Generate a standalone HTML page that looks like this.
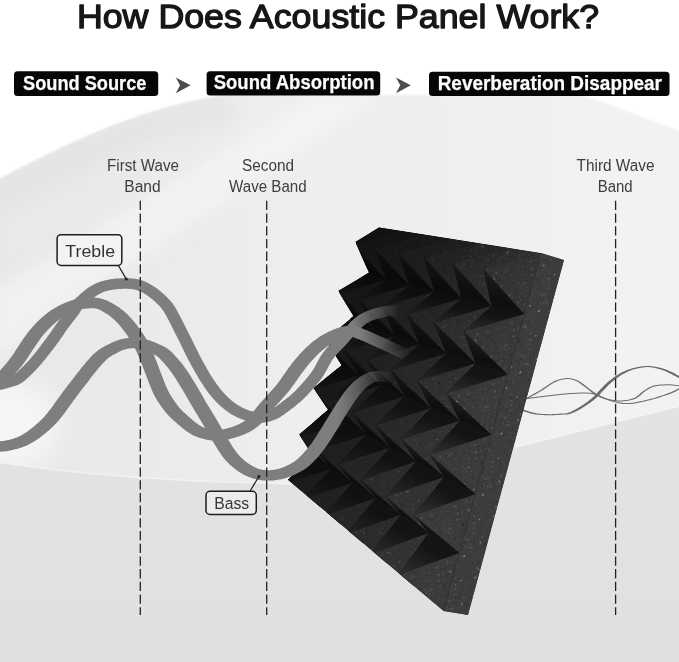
<!DOCTYPE html><html><head><meta charset="utf-8"><title>How Does Acoustic Panel Work?</title><style>html,body{margin:0;padding:0;background:#fff}body{width:679px;height:662px;overflow:hidden;font-family:"Liberation Sans",sans-serif}svg{display:block}</style></head><body><svg width="679" height="662" viewBox="0 0 679 662"><defs>
<linearGradient id="gWall" x1="0" y1="0" x2="1" y2="0"><stop offset="0" stop-color="#e8e8e8"/><stop offset="0.15" stop-color="#e9e9e9"/><stop offset="0.3" stop-color="#ebebeb"/><stop offset="0.45" stop-color="#eeeeee"/><stop offset="0.65" stop-color="#efefef"/><stop offset="0.85" stop-color="#f2f2f2"/><stop offset="1" stop-color="#f2f2f2"/></linearGradient>
<linearGradient id="gFloor" x1="0" y1="0" x2="0" y2="1"><stop offset="0" stop-color="#e3e3e3"/><stop offset="1" stop-color="#e0e0e0"/></linearGradient>
<filter id="blur3" x="-10%" y="-10%" width="120%" height="120%"><feGaussianBlur stdDeviation="1.1"/></filter>
<filter id="blur1" x="-10%" y="-10%" width="120%" height="120%"><feGaussianBlur stdDeviation="0.7"/></filter>
<filter id="blur8" x="-30%" y="-30%" width="160%" height="160%"><feGaussianBlur stdDeviation="7"/></filter>
<filter id="blur20" x="-30%" y="-30%" width="160%" height="160%"><feGaussianBlur stdDeviation="14"/></filter>
<linearGradient id="fadeA" gradientUnits="userSpaceOnUse" x1="0" y1="0" x2="400" y2="0"><stop offset="0" stop-color="#7e7e7e" stop-opacity="1"/><stop offset="0.880" stop-color="#7e7e7e" stop-opacity="1"/><stop offset="0.934" stop-color="#7e7e7e" stop-opacity="0.6"/><stop offset="1" stop-color="#7e7e7e" stop-opacity="0"/></linearGradient>
<linearGradient id="fadeB" gradientUnits="userSpaceOnUse" x1="0" y1="0" x2="409" y2="0"><stop offset="0" stop-color="#7e7e7e" stop-opacity="1"/><stop offset="0.880" stop-color="#7e7e7e" stop-opacity="1"/><stop offset="0.934" stop-color="#7e7e7e" stop-opacity="0.6"/><stop offset="1" stop-color="#7e7e7e" stop-opacity="0"/></linearGradient>
<linearGradient id="fadeC" gradientUnits="userSpaceOnUse" x1="0" y1="0" x2="392" y2="0"><stop offset="0" stop-color="#7e7e7e" stop-opacity="1"/><stop offset="0.862" stop-color="#7e7e7e" stop-opacity="1"/><stop offset="0.924" stop-color="#7e7e7e" stop-opacity="0.6"/><stop offset="1" stop-color="#7e7e7e" stop-opacity="0"/></linearGradient>
<linearGradient id="gPanel" gradientUnits="userSpaceOnUse" x1="335" y1="290" x2="455" y2="430"><stop offset="0" stop-color="#000" stop-opacity="0.3"/><stop offset="0.6" stop-color="#000" stop-opacity="0.1"/><stop offset="1" stop-color="#000" stop-opacity="0"/></linearGradient>
</defs>
<rect width="679" height="662" fill="#ffffff"/>
<path d="M-40 199 C40 158 120 112 215 96.5 C240 92.5 270 94.5 330 94.5 L583 95 L679 130.5 L720 145.4 L720 700 L-40 700 Z" fill="url(#gWall)" filter="url(#blur3)"/>
<clipPath id="cpWall"><path d="M-40 199 C40 158 120 112 215 96.5 C240 92.5 270 94.5 330 94.5 L583 95 L679 130.5 L720 145.4 L720 700 L-40 700 Z"/></clipPath>
<path d="M-40 198 L0 178.5 L60 149.8 L124.8 120.6 L189.6 101.2 L230 96 L230 120 L150 140 L60 180 L-40 230 Z" fill="#dedede" opacity="0.45" filter="url(#blur8)" clip-path="url(#cpWall)"/>
<path d="M322 90 L380 96 L-20 368 L-20 300 Z" fill="#f8f8f8" opacity="0.55" filter="url(#blur8)"/>
<ellipse cx="0" cy="425" rx="60" ry="45" fill="#ffffff" opacity="0.6" filter="url(#blur20)"/>
<path d="M-40 456 L0 462.5 C70 473 160 482 300 484 L430 480 L516 447 L679 406.4 L720 396 L720 700 L-40 700 Z" fill="url(#gFloor)" filter="url(#blur1)"/>
<path d="M-40 456 L0 462.5 C70 473 160 482 300 484 M516 447 L679 406.4 L720 396" fill="none" stroke="#f6f6f6" stroke-width="1.4" opacity="0.7" filter="url(#blur1)"/>
<path d="M517.6 409.4 L518.9 409.8 L520.1 410.2 L521.4 410.6 L522.6 411.0 L523.9 411.4 L525.2 411.8 L526.5 412.2 L527.8 412.6 L529.0 413.0 L530.3 413.4 L531.6 413.7 L532.9 413.9 L534.2 414.2 L535.4 414.4 L536.7 414.6 L537.9 414.7 L539.1 414.8 L540.3 414.9 L541.5 415.0 L542.6 415.1 L543.8 415.1 L544.9 415.2 L546.0 415.2 L547.1 415.2 L548.3 415.3 L549.4 415.3 L550.6 415.3 L551.7 415.3 L552.9 415.2 L554.0 415.2 L555.1 415.1 L556.2 415.1 L557.3 415.0 L558.4 414.9 L559.5 414.8 L560.6 414.7 L561.4 414.7 L562.2 414.6 L563.1 414.6 L564.0 414.6 L565.0 414.5 L566.2 414.5 L567.4 414.4 L568.6 414.2 L569.9 413.9 L571.1 413.5 L572.4 413.1 L573.8 412.5 L575.2 411.8 L576.8 411.0 L578.4 410.2 L580.0 409.2 L581.8 408.2 L583.5 407.1 L585.3 406.0 L587.1 404.8 L588.9 403.6 L590.6 402.4 L592.3 401.1 L593.9 399.9 L595.4 398.6 L597.0 397.2 L598.5 395.7 L599.9 394.2 L601.4 392.6 L602.8 391.1 L604.3 389.5 L605.7 388.0 L607.1 386.5 L608.5 385.1 L610.0 383.7 L611.4 382.5 L612.8 381.3 L614.3 380.2 L615.7 379.1 L617.1 378.0 L618.5 377.0 L619.9 376.1 L621.3 375.1 L622.7 374.3 L624.2 373.5 L625.6 372.7 L627.1 372.0 L628.6 371.3 L630.1 370.7 L631.7 370.1 L633.3 369.6 L634.9 369.1 L636.5 368.7 L638.1 368.3 L639.7 368.0 L641.3 367.7 L642.8 367.5 L644.3 367.3 L645.7 367.2 L647.1 367.1 L648.3 367.1 L649.6 367.2 L650.8 367.3 L652.1 367.4 L653.3 367.6 L654.6 367.9 L655.9 368.2 L657.3 368.5 L658.6 368.9 L660.0 369.3 L661.4 369.8 L662.8 370.3 L664.2 370.8 L665.7 371.3 L667.1 372.0 L668.5 372.7 L670.0 373.4 L671.5 374.1 L672.9 374.9 L674.4 375.7 L675.9 376.5 L677.4 377.3 L678.9 378.0 L680.4 378.8 L683.6 378.2 L682.2 377.5 L680.7 376.7 L679.2 376.0 L677.8 375.2 L676.3 374.4 L674.8 373.6 L673.3 372.8 L671.8 372.1 L670.3 371.4 L668.8 370.7 L667.3 370.1 L665.8 369.5 L664.3 369.1 L662.8 368.6 L661.3 368.1 L659.9 367.7 L658.4 367.3 L656.9 367.0 L655.3 366.7 L653.7 366.4 L652.0 366.2 L650.3 366.1 L648.5 366.0 L646.7 366.1 L644.9 366.1 L643.1 366.3 L641.3 366.5 L639.4 366.8 L637.6 367.1 L635.8 367.4 L634.0 367.9 L632.2 368.3 L630.5 368.9 L628.7 369.4 L627.1 370.0 L625.4 370.7 L623.9 371.4 L622.3 372.1 L620.8 372.9 L619.3 373.8 L617.9 374.7 L616.4 375.6 L615.0 376.6 L613.5 377.6 L612.1 378.7 L610.7 379.8 L609.3 380.9 L607.8 382.1 L606.3 383.4 L604.9 384.7 L603.5 386.2 L602.0 387.7 L600.6 389.2 L599.2 390.8 L597.7 392.3 L596.3 393.9 L594.8 395.4 L593.3 396.9 L591.8 398.2 L590.3 399.5 L588.7 400.8 L587.1 402.0 L585.4 403.2 L583.6 404.4 L581.9 405.6 L580.1 406.7 L578.4 407.7 L576.7 408.7 L575.0 409.7 L573.4 410.5 L572.0 411.3 L570.6 411.9 L569.4 412.4 L568.3 412.8 L567.4 413.1 L566.5 413.2 L565.8 413.4 L565.1 413.4 L564.4 413.5 L563.7 413.5 L562.8 413.5 L561.7 413.5 L560.6 413.6 L559.4 413.7 L558.4 413.8 L557.4 413.9 L556.4 413.9 L555.4 414.0 L554.4 414.1 L553.5 414.1 L552.5 414.1 L551.5 414.2 L550.5 414.2 L549.5 414.2 L548.5 414.2 L547.5 414.2 L546.4 414.1 L545.4 414.1 L544.3 414.1 L543.3 414.0 L542.3 413.9 L541.3 413.9 L540.3 413.8 L539.3 413.7 L538.2 413.6 L537.2 413.4 L536.2 413.3 L535.1 413.1 L534.0 412.8 L532.9 412.5 L531.7 412.2 L530.5 411.9 L529.3 411.5 L528.0 411.1 L526.8 410.7 L525.5 410.3 L524.2 409.8 L522.9 409.4 L521.6 409.0 L520.4 408.6 Z" fill="#6a6a6a"/>
<path d="M523.7 400.8 L525.1 400.1 L526.5 399.3 L528.0 398.5 L529.4 397.7 L530.9 396.9 L532.3 396.1 L533.7 395.3 L535.2 394.5 L536.6 393.7 L538.0 392.9 L539.4 392.1 L540.7 391.3 L542.1 390.5 L543.4 389.7 L544.7 388.8 L546.0 387.9 L547.3 387.0 L548.6 386.1 L549.8 385.3 L551.0 384.5 L552.2 383.7 L553.4 383.0 L554.5 382.4 L555.6 381.9 L556.7 381.4 L557.8 381.0 L558.8 380.6 L559.8 380.3 L560.8 380.0 L561.8 379.8 L562.7 379.6 L563.7 379.4 L564.6 379.3 L565.5 379.2 L566.4 379.1 L567.2 379.1 L568.1 379.1 L568.9 379.1 L569.7 379.2 L570.4 379.3 L571.2 379.5 L572.0 379.6 L572.7 379.9 L573.5 380.1 L574.2 380.3 L575.0 380.6 L575.7 380.9 L576.4 381.2 L577.1 381.5 L577.7 381.8 L578.2 382.1 L578.8 382.5 L579.4 382.9 L579.9 383.3 L580.5 383.7 L581.1 384.2 L581.7 384.7 L582.4 385.2 L583.1 385.7 L583.9 386.3 L584.8 386.9 L585.6 387.6 L586.5 388.3 L587.5 389.0 L588.4 389.8 L589.5 390.6 L590.5 391.4 L591.6 392.2 L592.7 393.0 L593.9 393.7 L595.1 394.5 L596.3 395.2 L597.6 395.8 L599.0 396.5 L600.4 397.2 L601.9 397.8 L603.5 398.5 L605.0 399.1 L606.6 399.7 L608.1 400.3 L609.7 400.8 L611.2 401.3 L612.6 401.7 L614.1 402.1 L615.4 402.5 L616.7 402.8 L617.9 403.1 L619.2 403.4 L620.4 403.6 L621.6 403.8 L622.9 403.9 L624.1 404.0 L625.4 404.1 L626.7 404.1 L628.1 404.1 L629.6 404.0 L631.2 403.9 L632.7 403.7 L634.4 403.5 L636.1 403.2 L637.8 402.9 L639.5 402.6 L641.2 402.2 L643.0 401.8 L644.7 401.4 L646.4 401.0 L648.1 400.6 L649.8 400.2 L651.5 399.7 L653.2 399.2 L655.0 398.8 L656.8 398.2 L658.5 397.7 L660.3 397.2 L662.0 396.6 L663.7 396.1 L665.3 395.5 L666.9 395.0 L668.4 394.4 L669.9 393.9 L671.2 393.4 L672.4 392.9 L673.6 392.4 L674.7 391.9 L675.7 391.4 L676.8 390.8 L677.7 390.3 L678.7 389.8 L679.7 389.4 L680.6 388.9 L681.6 388.4 L682.6 387.9 L681.4 387.1 L680.3 387.6 L679.3 388.1 L678.3 388.6 L677.4 389.1 L676.4 389.6 L675.4 390.1 L674.5 390.6 L673.4 391.1 L672.4 391.6 L671.2 392.1 L670.0 392.6 L668.7 393.1 L667.4 393.6 L665.9 394.1 L664.3 394.7 L662.7 395.2 L661.0 395.8 L659.3 396.3 L657.6 396.8 L655.8 397.4 L654.1 397.9 L652.4 398.4 L650.7 398.8 L649.0 399.2 L647.3 399.7 L645.6 400.1 L643.9 400.5 L642.2 400.9 L640.5 401.3 L638.8 401.6 L637.1 402.0 L635.5 402.3 L633.9 402.5 L632.3 402.7 L630.8 402.9 L629.4 403.0 L628.0 403.1 L626.7 403.1 L625.5 403.1 L624.3 403.0 L623.2 402.9 L622.1 402.8 L621.0 402.6 L619.8 402.4 L618.7 402.2 L617.5 401.9 L616.2 401.6 L614.9 401.3 L613.6 400.9 L612.2 400.4 L610.7 400.0 L609.2 399.4 L607.7 398.9 L606.2 398.3 L604.6 397.7 L603.1 397.0 L601.7 396.4 L600.3 395.7 L598.9 395.1 L597.7 394.4 L596.5 393.8 L595.3 393.1 L594.2 392.3 L593.1 391.6 L592.1 390.8 L591.0 390.0 L590.0 389.2 L589.1 388.5 L588.1 387.7 L587.2 387.0 L586.3 386.3 L585.5 385.7 L584.7 385.1 L584.0 384.6 L583.3 384.1 L582.7 383.6 L582.1 383.1 L581.5 382.7 L580.9 382.3 L580.3 381.9 L579.7 381.5 L579.0 381.1 L578.3 380.7 L577.6 380.4 L576.8 380.1 L576.1 379.8 L575.3 379.5 L574.5 379.2 L573.6 379.0 L572.8 378.7 L571.9 378.5 L571.0 378.4 L570.1 378.2 L569.1 378.1 L568.1 378.1 L567.2 378.1 L566.2 378.1 L565.2 378.2 L564.2 378.3 L563.1 378.5 L562.1 378.6 L561.1 378.9 L560.0 379.1 L558.9 379.4 L557.8 379.8 L556.7 380.2 L555.5 380.6 L554.4 381.1 L553.2 381.7 L552.0 382.4 L550.8 383.1 L549.5 383.9 L548.3 384.7 L547.0 385.5 L545.8 386.4 L544.5 387.3 L543.2 388.2 L541.9 389.0 L540.6 389.9 L539.3 390.7 L537.9 391.5 L536.6 392.2 L535.2 393.0 L533.8 393.8 L532.4 394.6 L530.9 395.4 L529.5 396.2 L528.1 397.0 L526.6 397.8 L525.2 398.6 L523.7 399.4 L522.3 400.2 Z" fill="#6e6e6e"/>
<path d="M523.2 399.5 L525.2 399.2 L527.2 399.0 L529.2 398.7 L531.2 398.5 L533.2 398.2 L535.2 398.0 L537.2 397.7 L539.1 397.4 L541.1 397.2 L543.2 397.0 L545.2 396.7 L547.2 396.5 L549.3 396.3 L551.4 396.0 L553.5 395.8 L555.6 395.5 L557.8 395.3 L559.9 395.1 L562.1 394.8 L564.2 394.6 L566.2 394.4 L568.3 394.3 L570.2 394.1 L572.1 394.0 L574.0 393.9 L575.8 393.8 L577.6 393.7 L579.4 393.6 L581.1 393.6 L582.8 393.5 L584.4 393.5 L586.0 393.5 L587.6 393.6 L589.0 393.7 L590.4 393.8 L591.7 394.0 L592.9 394.2 L594.0 394.5 L595.1 394.9 L596.1 395.3 L597.0 395.7 L598.0 396.2 L598.9 396.7 L599.8 397.2 L600.8 397.7 L601.9 398.1 L603.0 398.6 L604.1 398.9 L605.3 399.3 L606.5 399.6 L607.8 399.9 L609.0 400.2 L610.3 400.4 L611.6 400.7 L612.9 400.9 L614.2 401.1 L615.5 401.3 L616.9 401.4 L618.2 401.5 L619.5 401.5 L620.8 401.5 L622.1 401.4 L623.5 401.3 L624.8 401.2 L626.2 401.1 L627.5 400.9 L628.9 400.6 L630.2 400.3 L631.4 400.0 L632.7 399.7 L633.9 399.3 L635.0 398.9 L636.1 398.4 L637.1 397.8 L638.0 397.2 L638.9 396.6 L639.7 395.9 L640.5 395.2 L641.3 394.5 L642.1 393.8 L642.8 393.1 L643.6 392.4 L644.4 391.8 L645.1 391.3 L645.9 390.8 L646.7 390.3 L647.5 389.8 L648.3 389.3 L649.0 388.9 L649.8 388.5 L650.6 388.0 L651.3 387.7 L652.2 387.3 L653.0 387.0 L653.9 386.7 L654.8 386.5 L655.8 386.2 L656.9 386.0 L658.0 385.9 L659.2 385.7 L660.4 385.6 L661.6 385.5 L662.9 385.4 L664.1 385.4 L665.4 385.3 L666.6 385.3 L667.8 385.3 L669.0 385.3 L670.1 385.3 L671.1 385.4 L672.2 385.5 L673.3 385.6 L674.3 385.7 L675.4 385.8 L676.4 386.0 L677.5 386.1 L678.5 386.3 L679.6 386.4 L680.7 386.6 L681.8 386.7 L682.2 385.7 L681.1 385.6 L680.1 385.5 L679.0 385.3 L678.0 385.2 L676.9 385.0 L675.8 384.9 L674.7 384.7 L673.6 384.6 L672.5 384.5 L671.4 384.4 L670.2 384.3 L669.0 384.3 L667.8 384.3 L666.6 384.3 L665.3 384.3 L664.0 384.4 L662.7 384.4 L661.4 384.5 L660.1 384.6 L658.8 384.7 L657.5 384.9 L656.3 385.1 L655.1 385.3 L654.0 385.5 L652.9 385.8 L651.9 386.2 L651.0 386.5 L650.1 386.9 L649.2 387.3 L648.4 387.8 L647.6 388.2 L646.8 388.7 L646.1 389.2 L645.3 389.7 L644.5 390.2 L643.7 390.7 L642.8 391.3 L642.0 391.9 L641.2 392.6 L640.4 393.2 L639.7 394.0 L638.9 394.7 L638.1 395.3 L637.3 396.0 L636.5 396.6 L635.6 397.2 L634.7 397.7 L633.8 398.1 L632.8 398.5 L631.7 398.8 L630.6 399.1 L629.4 399.4 L628.2 399.7 L627.0 399.9 L625.7 400.1 L624.5 400.2 L623.2 400.3 L621.9 400.4 L620.7 400.5 L619.5 400.5 L618.3 400.5 L617.1 400.4 L615.9 400.3 L614.7 400.1 L613.5 400.0 L612.2 399.7 L611.0 399.5 L609.8 399.2 L608.6 399.0 L607.4 398.7 L606.2 398.4 L605.1 398.1 L604.0 397.7 L603.0 397.4 L602.1 396.9 L601.2 396.5 L600.2 396.0 L599.3 395.5 L598.3 395.0 L597.3 394.5 L596.2 394.1 L595.0 393.6 L593.7 393.3 L592.3 393.0 L590.8 392.8 L589.3 392.7 L587.7 392.6 L586.1 392.5 L584.4 392.5 L582.7 392.5 L581.0 392.6 L579.2 392.6 L577.4 392.7 L575.6 392.8 L573.8 392.9 L571.9 393.0 L570.0 393.1 L568.0 393.3 L565.9 393.4 L563.8 393.6 L561.7 393.8 L559.6 394.1 L557.4 394.3 L555.2 394.5 L553.1 394.8 L551.0 395.0 L548.9 395.3 L546.8 395.5 L544.8 395.7 L542.7 396.0 L540.7 396.2 L538.7 396.5 L536.7 396.7 L534.7 397.0 L532.7 397.2 L530.7 397.5 L528.8 397.8 L526.8 398.0 L524.8 398.3 L522.8 398.5 Z" fill="#6e6e6e"/>
<pattern id="sp" width="64" height="64" patternUnits="userSpaceOnUse" patternTransform="rotate(17)"><circle cx="20.7" cy="9.7" r="0.75" fill="#d8d8d8" opacity="0.28"/><circle cx="52.6" cy="6.0" r="0.60" fill="#d8d8d8" opacity="0.28"/><circle cx="32.5" cy="2.4" r="0.50" fill="#d8d8d8" opacity="0.48"/><circle cx="15.4" cy="35.3" r="0.35" fill="#d8d8d8" opacity="0.70"/><circle cx="7.9" cy="14.3" r="0.75" fill="#d8d8d8" opacity="0.57"/><circle cx="4.0" cy="37.5" r="0.35" fill="#d8d8d8" opacity="0.79"/><circle cx="3.0" cy="54.9" r="0.45" fill="#d8d8d8" opacity="0.48"/><circle cx="34.6" cy="36.5" r="0.60" fill="#d8d8d8" opacity="0.70"/><circle cx="11.6" cy="37.2" r="0.75" fill="#d8d8d8" opacity="0.35"/><circle cx="6.2" cy="45.6" r="0.60" fill="#d8d8d8" opacity="0.28"/><circle cx="13.2" cy="43.5" r="0.50" fill="#d8d8d8" opacity="0.68"/><circle cx="29.8" cy="59.1" r="0.45" fill="#d8d8d8" opacity="0.41"/><circle cx="50.8" cy="44.7" r="0.40" fill="#d8d8d8" opacity="0.30"/><circle cx="19.2" cy="31.7" r="0.45" fill="#d8d8d8" opacity="0.65"/><circle cx="18.4" cy="62.7" r="0.35" fill="#d8d8d8" opacity="0.53"/><circle cx="10.6" cy="21.9" r="0.50" fill="#d8d8d8" opacity="0.48"/><circle cx="61.6" cy="5.0" r="0.60" fill="#d8d8d8" opacity="0.57"/><circle cx="56.0" cy="20.1" r="0.75" fill="#d8d8d8" opacity="0.44"/><circle cx="31.8" cy="51.0" r="0.35" fill="#d8d8d8" opacity="0.71"/><circle cx="60.5" cy="30.3" r="0.75" fill="#d8d8d8" opacity="0.29"/><circle cx="46.8" cy="19.8" r="0.60" fill="#d8d8d8" opacity="0.80"/><circle cx="52.6" cy="18.2" r="0.50" fill="#d8d8d8" opacity="0.74"/><circle cx="22.2" cy="60.2" r="0.45" fill="#d8d8d8" opacity="0.34"/><circle cx="7.5" cy="3.8" r="0.45" fill="#d8d8d8" opacity="0.32"/><circle cx="15.8" cy="25.0" r="0.50" fill="#d8d8d8" opacity="0.29"/><circle cx="28.7" cy="35.2" r="0.40" fill="#d8d8d8" opacity="0.70"/><circle cx="55.3" cy="17.8" r="0.50" fill="#d8d8d8" opacity="0.79"/><circle cx="43.7" cy="24.3" r="0.40" fill="#d8d8d8" opacity="0.33"/><circle cx="11.3" cy="14.8" r="0.40" fill="#d8d8d8" opacity="0.26"/><circle cx="53.2" cy="11.7" r="0.45" fill="#d8d8d8" opacity="0.25"/><circle cx="26.8" cy="23.6" r="0.60" fill="#d8d8d8" opacity="0.43"/><circle cx="8.0" cy="55.0" r="0.60" fill="#d8d8d8" opacity="0.61"/><circle cx="47.3" cy="29.2" r="0.75" fill="#d8d8d8" opacity="0.69"/><circle cx="25.1" cy="25.5" r="0.35" fill="#d8d8d8" opacity="0.51"/><circle cx="25.6" cy="12.2" r="0.40" fill="#d8d8d8" opacity="0.49"/><circle cx="7.0" cy="38.4" r="0.35" fill="#d8d8d8" opacity="0.25"/><circle cx="9.7" cy="6.5" r="0.45" fill="#d8d8d8" opacity="0.59"/><circle cx="4.5" cy="13.3" r="0.50" fill="#d8d8d8" opacity="0.33"/><circle cx="16.1" cy="22.2" r="0.45" fill="#d8d8d8" opacity="0.51"/><circle cx="7.4" cy="31.2" r="0.50" fill="#d8d8d8" opacity="0.51"/><circle cx="20.0" cy="9.2" r="0.75" fill="#d8d8d8" opacity="0.44"/><circle cx="16.9" cy="53.0" r="0.40" fill="#d8d8d8" opacity="0.53"/><circle cx="13.1" cy="60.9" r="0.45" fill="#d8d8d8" opacity="0.33"/><circle cx="34.8" cy="1.7" r="0.60" fill="#d8d8d8" opacity="0.41"/><circle cx="41.1" cy="5.8" r="0.45" fill="#d8d8d8" opacity="0.54"/><circle cx="58.1" cy="22.8" r="0.40" fill="#d8d8d8" opacity="0.54"/><circle cx="49.9" cy="21.1" r="0.40" fill="#d8d8d8" opacity="0.59"/><circle cx="50.5" cy="48.5" r="0.40" fill="#d8d8d8" opacity="0.69"/><circle cx="52.4" cy="47.4" r="0.40" fill="#d8d8d8" opacity="0.36"/><circle cx="31.5" cy="46.8" r="0.35" fill="#d8d8d8" opacity="0.68"/><circle cx="30.2" cy="12.4" r="0.60" fill="#d8d8d8" opacity="0.78"/><circle cx="28.6" cy="60.0" r="0.45" fill="#d8d8d8" opacity="0.78"/><circle cx="23.3" cy="14.1" r="0.40" fill="#d8d8d8" opacity="0.51"/><circle cx="21.6" cy="30.9" r="0.60" fill="#d8d8d8" opacity="0.71"/><circle cx="30.7" cy="41.8" r="0.75" fill="#d8d8d8" opacity="0.30"/><circle cx="42.3" cy="58.2" r="0.75" fill="#d8d8d8" opacity="0.66"/><circle cx="30.6" cy="11.4" r="0.75" fill="#d8d8d8" opacity="0.43"/><circle cx="51.3" cy="62.2" r="0.50" fill="#d8d8d8" opacity="0.50"/><circle cx="47.6" cy="5.4" r="0.40" fill="#d8d8d8" opacity="0.34"/><circle cx="8.1" cy="9.7" r="0.50" fill="#d8d8d8" opacity="0.69"/><circle cx="9.4" cy="52.9" r="0.50" fill="#d8d8d8" opacity="0.61"/><circle cx="22.4" cy="35.1" r="0.40" fill="#d8d8d8" opacity="0.26"/><circle cx="51.2" cy="46.5" r="0.35" fill="#d8d8d8" opacity="0.54"/><circle cx="59.8" cy="27.8" r="0.40" fill="#d8d8d8" opacity="0.70"/><circle cx="13.5" cy="16.1" r="0.45" fill="#d8d8d8" opacity="0.53"/><circle cx="48.9" cy="20.9" r="0.60" fill="#d8d8d8" opacity="0.48"/><circle cx="8.4" cy="58.2" r="0.45" fill="#d8d8d8" opacity="0.74"/><circle cx="42.4" cy="52.2" r="0.60" fill="#d8d8d8" opacity="0.48"/><circle cx="58.7" cy="32.1" r="0.60" fill="#d8d8d8" opacity="0.33"/><circle cx="32.7" cy="55.9" r="0.40" fill="#d8d8d8" opacity="0.58"/><circle cx="49.7" cy="9.6" r="0.7" fill="#999" opacity="0.12"/><circle cx="39.6" cy="7.7" r="0.7" fill="#999" opacity="0.11"/><circle cx="43.7" cy="34.0" r="0.7" fill="#999" opacity="0.16"/><circle cx="49.7" cy="56.5" r="0.7" fill="#999" opacity="0.11"/><circle cx="12.2" cy="2.7" r="0.7" fill="#999" opacity="0.11"/><circle cx="28.9" cy="1.8" r="0.7" fill="#999" opacity="0.21"/><circle cx="4.1" cy="20.8" r="0.7" fill="#999" opacity="0.22"/><circle cx="38.8" cy="12.8" r="0.7" fill="#999" opacity="0.13"/><circle cx="32.5" cy="51.7" r="0.7" fill="#999" opacity="0.16"/><circle cx="15.8" cy="33.5" r="0.7" fill="#999" opacity="0.21"/><circle cx="59.4" cy="59.1" r="0.7" fill="#999" opacity="0.21"/><circle cx="13.0" cy="28.6" r="0.7" fill="#999" opacity="0.15"/><circle cx="25.1" cy="20.2" r="0.7" fill="#999" opacity="0.18"/><circle cx="27.4" cy="13.6" r="0.7" fill="#999" opacity="0.14"/><circle cx="7.8" cy="49.7" r="0.7" fill="#999" opacity="0.21"/><circle cx="41.2" cy="23.4" r="0.7" fill="#999" opacity="0.13"/><circle cx="8.8" cy="29.9" r="0.7" fill="#999" opacity="0.19"/><circle cx="6.0" cy="56.6" r="0.7" fill="#999" opacity="0.12"/><circle cx="42.7" cy="14.3" r="0.7" fill="#999" opacity="0.18"/><circle cx="63.6" cy="25.8" r="0.7" fill="#999" opacity="0.15"/><circle cx="22.8" cy="5.9" r="0.7" fill="#999" opacity="0.14"/><circle cx="21.6" cy="29.4" r="0.7" fill="#999" opacity="0.18"/><circle cx="24.6" cy="33.1" r="0.7" fill="#999" opacity="0.14"/><circle cx="61.5" cy="7.2" r="0.7" fill="#999" opacity="0.21"/><circle cx="14.6" cy="56.1" r="0.7" fill="#999" opacity="0.11"/><circle cx="17.4" cy="58.0" r="0.7" fill="#999" opacity="0.12"/><circle cx="48.4" cy="52.5" r="0.7" fill="#999" opacity="0.20"/><circle cx="43.3" cy="60.5" r="0.7" fill="#999" opacity="0.15"/><circle cx="34.3" cy="32.9" r="0.7" fill="#999" opacity="0.16"/><circle cx="20.9" cy="17.9" r="0.7" fill="#999" opacity="0.20"/><circle cx="11.7" cy="57.3" r="0.7" fill="#999" opacity="0.13"/><circle cx="1.1" cy="5.7" r="0.7" fill="#999" opacity="0.13"/><circle cx="38.9" cy="14.2" r="0.7" fill="#999" opacity="0.13"/><circle cx="7.8" cy="0.7" r="0.7" fill="#999" opacity="0.22"/><circle cx="26.7" cy="58.6" r="0.7" fill="#999" opacity="0.17"/><circle cx="2.8" cy="45.4" r="0.7" fill="#999" opacity="0.21"/><circle cx="62.0" cy="16.8" r="0.7" fill="#999" opacity="0.12"/><circle cx="59.7" cy="40.2" r="0.7" fill="#999" opacity="0.16"/><circle cx="13.2" cy="28.5" r="0.7" fill="#999" opacity="0.18"/><circle cx="17.3" cy="51.4" r="0.7" fill="#999" opacity="0.22"/><circle cx="2.4" cy="1.2" r="0.7" fill="#999" opacity="0.16"/><circle cx="62.6" cy="32.9" r="0.7" fill="#999" opacity="0.13"/><circle cx="28.6" cy="42.1" r="0.7" fill="#999" opacity="0.18"/><circle cx="42.0" cy="34.9" r="0.7" fill="#999" opacity="0.21"/><circle cx="62.1" cy="19.7" r="0.7" fill="#999" opacity="0.13"/><circle cx="14.7" cy="12.7" r="0.7" fill="#999" opacity="0.21"/><circle cx="46.6" cy="8.9" r="0.7" fill="#999" opacity="0.22"/><circle cx="62.8" cy="53.6" r="0.7" fill="#999" opacity="0.10"/><circle cx="40.0" cy="56.3" r="0.7" fill="#999" opacity="0.15"/><circle cx="3.5" cy="42.6" r="0.7" fill="#999" opacity="0.15"/><circle cx="32.4" cy="62.1" r="0.7" fill="#999" opacity="0.17"/><circle cx="44.3" cy="2.9" r="0.7" fill="#999" opacity="0.12"/><circle cx="17.2" cy="0.2" r="0.7" fill="#999" opacity="0.14"/><circle cx="21.1" cy="63.0" r="0.7" fill="#999" opacity="0.14"/><circle cx="2.2" cy="56.5" r="0.7" fill="#999" opacity="0.13"/><circle cx="11.7" cy="21.5" r="0.7" fill="#999" opacity="0.11"/><circle cx="17.9" cy="42.0" r="0.7" fill="#999" opacity="0.13"/><circle cx="49.7" cy="5.8" r="0.7" fill="#999" opacity="0.20"/><circle cx="9.2" cy="37.6" r="0.7" fill="#999" opacity="0.15"/><circle cx="19.2" cy="40.3" r="0.7" fill="#999" opacity="0.11"/><circle cx="61.3" cy="54.6" r="0.7" fill="#999" opacity="0.12"/><circle cx="57.1" cy="50.2" r="0.7" fill="#999" opacity="0.17"/><circle cx="48.9" cy="46.1" r="0.7" fill="#999" opacity="0.16"/><circle cx="18.2" cy="39.6" r="0.7" fill="#999" opacity="0.12"/><circle cx="52.8" cy="45.8" r="0.7" fill="#999" opacity="0.16"/><circle cx="27.5" cy="44.9" r="0.7" fill="#999" opacity="0.16"/><circle cx="58.2" cy="48.2" r="0.7" fill="#999" opacity="0.17"/><circle cx="52.0" cy="1.0" r="0.7" fill="#999" opacity="0.18"/><circle cx="51.1" cy="45.5" r="0.7" fill="#999" opacity="0.21"/><circle cx="41.1" cy="5.4" r="0.7" fill="#999" opacity="0.11"/><circle cx="40.8" cy="61.4" r="0.7" fill="#999" opacity="0.15"/><circle cx="28.9" cy="3.2" r="0.7" fill="#999" opacity="0.10"/><circle cx="34.0" cy="15.7" r="0.7" fill="#999" opacity="0.13"/><circle cx="29.2" cy="4.5" r="0.7" fill="#999" opacity="0.21"/><circle cx="57.5" cy="5.9" r="0.7" fill="#999" opacity="0.16"/><circle cx="47.7" cy="30.3" r="0.7" fill="#999" opacity="0.20"/><circle cx="54.2" cy="15.0" r="0.7" fill="#999" opacity="0.19"/><circle cx="14.8" cy="41.6" r="0.7" fill="#999" opacity="0.16"/><circle cx="54.1" cy="4.9" r="0.7" fill="#999" opacity="0.21"/><circle cx="18.4" cy="3.0" r="0.7" fill="#999" opacity="0.18"/><circle cx="12.7" cy="38.4" r="0.7" fill="#999" opacity="0.14"/><circle cx="41.7" cy="44.3" r="0.7" fill="#999" opacity="0.17"/><circle cx="8.5" cy="30.9" r="0.7" fill="#999" opacity="0.16"/><circle cx="62.2" cy="6.4" r="0.7" fill="#999" opacity="0.13"/><circle cx="31.3" cy="45.4" r="0.7" fill="#999" opacity="0.13"/><circle cx="29.8" cy="49.1" r="0.7" fill="#999" opacity="0.22"/><circle cx="35.1" cy="19.9" r="0.7" fill="#999" opacity="0.11"/><circle cx="30.3" cy="18.5" r="0.7" fill="#999" opacity="0.11"/><circle cx="32.4" cy="63.7" r="0.7" fill="#999" opacity="0.22"/><circle cx="24.8" cy="58.7" r="0.7" fill="#999" opacity="0.21"/><circle cx="4.8" cy="5.8" r="0.7" fill="#999" opacity="0.19"/><circle cx="16.8" cy="23.0" r="0.7" fill="#999" opacity="0.17"/><circle cx="40.4" cy="17.9" r="0.7" fill="#999" opacity="0.11"/><circle cx="23.4" cy="31.9" r="0.7" fill="#999" opacity="0.21"/><circle cx="25.2" cy="10.2" r="0.7" fill="#999" opacity="0.21"/><circle cx="43.6" cy="25.9" r="0.7" fill="#999" opacity="0.19"/><circle cx="26.6" cy="24.1" r="0.7" fill="#999" opacity="0.11"/><circle cx="21.2" cy="20.8" r="0.7" fill="#999" opacity="0.14"/><circle cx="25.5" cy="60.2" r="0.7" fill="#999" opacity="0.12"/><circle cx="0.8" cy="47.4" r="0.7" fill="#999" opacity="0.13"/><circle cx="4.2" cy="25.0" r="0.7" fill="#999" opacity="0.20"/><circle cx="4.9" cy="59.2" r="0.7" fill="#999" opacity="0.19"/><circle cx="54.7" cy="18.0" r="0.7" fill="#999" opacity="0.11"/><circle cx="42.4" cy="40.6" r="0.7" fill="#999" opacity="0.12"/><circle cx="62.1" cy="27.9" r="0.7" fill="#999" opacity="0.14"/><circle cx="49.5" cy="50.2" r="0.7" fill="#999" opacity="0.15"/><circle cx="1.9" cy="48.7" r="0.7" fill="#999" opacity="0.15"/><circle cx="56.0" cy="35.5" r="0.7" fill="#999" opacity="0.12"/><circle cx="5.2" cy="59.7" r="0.7" fill="#999" opacity="0.15"/><circle cx="39.4" cy="8.9" r="0.7" fill="#999" opacity="0.20"/><circle cx="31.1" cy="58.4" r="0.7" fill="#999" opacity="0.17"/><circle cx="10.9" cy="26.6" r="0.7" fill="#999" opacity="0.13"/><circle cx="16.4" cy="47.3" r="0.7" fill="#999" opacity="0.18"/><circle cx="26.0" cy="15.3" r="0.7" fill="#999" opacity="0.16"/><circle cx="42.8" cy="7.7" r="0.7" fill="#999" opacity="0.18"/><circle cx="4.8" cy="32.0" r="0.7" fill="#999" opacity="0.20"/><circle cx="35.2" cy="29.0" r="0.7" fill="#999" opacity="0.14"/><circle cx="48.6" cy="27.4" r="0.7" fill="#999" opacity="0.17"/><circle cx="15.6" cy="11.2" r="0.7" fill="#999" opacity="0.17"/><circle cx="20.4" cy="23.6" r="0.7" fill="#999" opacity="0.20"/><circle cx="12.9" cy="1.3" r="0.7" fill="#999" opacity="0.20"/><circle cx="24.5" cy="47.7" r="0.7" fill="#999" opacity="0.13"/><circle cx="17.3" cy="48.1" r="0.7" fill="#999" opacity="0.16"/><circle cx="36.8" cy="23.0" r="0.7" fill="#999" opacity="0.18"/><circle cx="33.9" cy="50.6" r="0.7" fill="#999" opacity="0.20"/><circle cx="5.9" cy="57.4" r="0.7" fill="#999" opacity="0.15"/><circle cx="41.3" cy="27.6" r="0.7" fill="#999" opacity="0.14"/><circle cx="52.1" cy="62.0" r="0.7" fill="#999" opacity="0.12"/><circle cx="27.2" cy="48.9" r="0.7" fill="#999" opacity="0.20"/><circle cx="62.0" cy="31.3" r="0.7" fill="#999" opacity="0.11"/><circle cx="59.5" cy="59.4" r="0.7" fill="#999" opacity="0.16"/><circle cx="30.0" cy="28.7" r="0.7" fill="#999" opacity="0.19"/><circle cx="14.3" cy="9.7" r="0.7" fill="#999" opacity="0.22"/><circle cx="7.0" cy="52.8" r="0.7" fill="#999" opacity="0.18"/><circle cx="54.2" cy="57.3" r="0.7" fill="#999" opacity="0.11"/><circle cx="49.7" cy="0.1" r="0.7" fill="#999" opacity="0.12"/><circle cx="36.4" cy="2.4" r="0.7" fill="#999" opacity="0.19"/><circle cx="61.6" cy="40.1" r="0.7" fill="#999" opacity="0.16"/><circle cx="28.0" cy="48.9" r="0.7" fill="#999" opacity="0.11"/><circle cx="19.2" cy="60.4" r="0.7" fill="#999" opacity="0.12"/><circle cx="16.7" cy="50.6" r="0.7" fill="#999" opacity="0.10"/><circle cx="34.4" cy="63.8" r="0.7" fill="#999" opacity="0.13"/><circle cx="20.2" cy="53.7" r="0.7" fill="#999" opacity="0.13"/><circle cx="33.7" cy="35.0" r="0.7" fill="#999" opacity="0.10"/><circle cx="26.4" cy="41.6" r="0.7" fill="#999" opacity="0.11"/><circle cx="12.4" cy="56.6" r="0.7" fill="#999" opacity="0.18"/><circle cx="5.2" cy="14.6" r="0.7" fill="#999" opacity="0.15"/><circle cx="23.7" cy="31.5" r="0.7" fill="#999" opacity="0.18"/><circle cx="46.0" cy="23.2" r="0.7" fill="#999" opacity="0.15"/><circle cx="0.4" cy="18.7" r="0.7" fill="#999" opacity="0.20"/><circle cx="4.3" cy="31.7" r="0.7" fill="#999" opacity="0.12"/><circle cx="49.0" cy="12.4" r="0.7" fill="#999" opacity="0.16"/><circle cx="17.0" cy="56.9" r="0.7" fill="#999" opacity="0.11"/><circle cx="39.9" cy="39.0" r="0.7" fill="#999" opacity="0.21"/><circle cx="31.0" cy="58.3" r="0.7" fill="#999" opacity="0.11"/><circle cx="38.1" cy="59.0" r="0.7" fill="#999" opacity="0.11"/><circle cx="1.5" cy="38.2" r="0.7" fill="#999" opacity="0.15"/><circle cx="45.4" cy="11.8" r="0.7" fill="#999" opacity="0.15"/><circle cx="45.6" cy="20.1" r="0.7" fill="#999" opacity="0.11"/><circle cx="5.1" cy="10.6" r="0.7" fill="#999" opacity="0.12"/><circle cx="41.8" cy="33.6" r="0.7" fill="#000" opacity="0.24"/><circle cx="20.0" cy="46.4" r="0.7" fill="#000" opacity="0.32"/><circle cx="63.0" cy="28.3" r="0.7" fill="#000" opacity="0.17"/><circle cx="5.0" cy="5.2" r="0.7" fill="#000" opacity="0.23"/><circle cx="56.7" cy="35.9" r="0.7" fill="#000" opacity="0.30"/><circle cx="24.3" cy="49.2" r="0.7" fill="#000" opacity="0.21"/><circle cx="51.5" cy="5.6" r="0.7" fill="#000" opacity="0.29"/><circle cx="12.5" cy="34.7" r="0.7" fill="#000" opacity="0.24"/><circle cx="20.7" cy="47.2" r="0.7" fill="#000" opacity="0.24"/><circle cx="40.4" cy="15.9" r="0.7" fill="#000" opacity="0.28"/><circle cx="25.9" cy="24.0" r="0.7" fill="#000" opacity="0.24"/><circle cx="51.4" cy="4.0" r="0.7" fill="#000" opacity="0.19"/><circle cx="4.0" cy="38.8" r="0.7" fill="#000" opacity="0.22"/><circle cx="21.4" cy="61.0" r="0.7" fill="#000" opacity="0.16"/><circle cx="47.8" cy="44.1" r="0.7" fill="#000" opacity="0.33"/><circle cx="19.0" cy="46.2" r="0.7" fill="#000" opacity="0.27"/><circle cx="51.6" cy="60.6" r="0.7" fill="#000" opacity="0.16"/><circle cx="52.9" cy="6.9" r="0.7" fill="#000" opacity="0.29"/><circle cx="29.8" cy="49.7" r="0.7" fill="#000" opacity="0.31"/><circle cx="58.5" cy="52.1" r="0.7" fill="#000" opacity="0.18"/><circle cx="31.8" cy="0.6" r="0.7" fill="#000" opacity="0.34"/><circle cx="19.4" cy="44.3" r="0.7" fill="#000" opacity="0.18"/><circle cx="15.1" cy="55.1" r="0.7" fill="#000" opacity="0.24"/><circle cx="50.2" cy="38.1" r="0.7" fill="#000" opacity="0.25"/><circle cx="25.1" cy="10.2" r="0.7" fill="#000" opacity="0.23"/><circle cx="41.6" cy="30.8" r="0.7" fill="#000" opacity="0.26"/><circle cx="10.3" cy="27.3" r="0.7" fill="#000" opacity="0.17"/><circle cx="4.6" cy="40.0" r="0.7" fill="#000" opacity="0.19"/><circle cx="26.9" cy="63.3" r="0.7" fill="#000" opacity="0.34"/><circle cx="11.1" cy="8.5" r="0.7" fill="#000" opacity="0.24"/><circle cx="57.0" cy="15.0" r="0.7" fill="#000" opacity="0.26"/><circle cx="49.5" cy="48.6" r="0.7" fill="#000" opacity="0.31"/><circle cx="18.8" cy="17.9" r="0.7" fill="#000" opacity="0.20"/><circle cx="16.3" cy="16.7" r="0.7" fill="#000" opacity="0.24"/><circle cx="11.9" cy="15.1" r="0.7" fill="#000" opacity="0.21"/><circle cx="58.1" cy="12.0" r="0.7" fill="#000" opacity="0.16"/><circle cx="16.1" cy="15.7" r="0.7" fill="#000" opacity="0.26"/><circle cx="41.6" cy="6.4" r="0.7" fill="#000" opacity="0.24"/><circle cx="2.4" cy="0.3" r="0.7" fill="#000" opacity="0.33"/><circle cx="14.8" cy="28.7" r="0.7" fill="#000" opacity="0.22"/><circle cx="56.1" cy="14.9" r="0.7" fill="#000" opacity="0.16"/><circle cx="38.4" cy="53.0" r="0.7" fill="#000" opacity="0.19"/><circle cx="4.8" cy="32.8" r="0.7" fill="#000" opacity="0.19"/><circle cx="38.6" cy="49.6" r="0.7" fill="#000" opacity="0.28"/><circle cx="0.4" cy="40.8" r="0.7" fill="#000" opacity="0.29"/><circle cx="22.4" cy="2.4" r="0.7" fill="#000" opacity="0.22"/><circle cx="2.8" cy="64.0" r="0.7" fill="#000" opacity="0.16"/><circle cx="46.9" cy="58.5" r="0.7" fill="#000" opacity="0.31"/><circle cx="52.4" cy="26.2" r="0.7" fill="#000" opacity="0.22"/><circle cx="39.7" cy="5.0" r="0.7" fill="#000" opacity="0.16"/><circle cx="31.7" cy="30.9" r="0.7" fill="#000" opacity="0.23"/><circle cx="50.9" cy="42.5" r="0.7" fill="#000" opacity="0.18"/><circle cx="34.2" cy="41.8" r="0.7" fill="#000" opacity="0.23"/><circle cx="17.4" cy="63.2" r="0.7" fill="#000" opacity="0.28"/><circle cx="26.7" cy="3.3" r="0.7" fill="#000" opacity="0.30"/><circle cx="56.6" cy="26.5" r="0.7" fill="#000" opacity="0.15"/><circle cx="49.1" cy="51.3" r="0.7" fill="#000" opacity="0.28"/><circle cx="25.0" cy="25.9" r="0.7" fill="#000" opacity="0.34"/><circle cx="27.8" cy="10.0" r="0.7" fill="#000" opacity="0.17"/><circle cx="5.8" cy="37.0" r="0.7" fill="#000" opacity="0.22"/><circle cx="49.5" cy="8.3" r="0.7" fill="#000" opacity="0.16"/><circle cx="9.1" cy="51.6" r="0.7" fill="#000" opacity="0.23"/><circle cx="36.7" cy="59.3" r="0.7" fill="#000" opacity="0.30"/><circle cx="11.0" cy="22.3" r="0.7" fill="#000" opacity="0.18"/><circle cx="11.0" cy="4.3" r="0.7" fill="#000" opacity="0.23"/><circle cx="48.2" cy="50.7" r="0.7" fill="#000" opacity="0.31"/><circle cx="19.3" cy="53.6" r="0.7" fill="#000" opacity="0.16"/><circle cx="58.4" cy="20.1" r="0.7" fill="#000" opacity="0.27"/><circle cx="40.7" cy="5.5" r="0.7" fill="#000" opacity="0.29"/><circle cx="44.0" cy="57.0" r="0.7" fill="#000" opacity="0.28"/><circle cx="54.8" cy="39.7" r="0.7" fill="#000" opacity="0.27"/><circle cx="12.6" cy="30.3" r="0.7" fill="#000" opacity="0.26"/><circle cx="2.7" cy="60.1" r="0.7" fill="#000" opacity="0.18"/><circle cx="23.0" cy="9.6" r="0.7" fill="#000" opacity="0.34"/><circle cx="52.2" cy="12.3" r="0.7" fill="#000" opacity="0.33"/><circle cx="53.9" cy="43.0" r="0.7" fill="#000" opacity="0.28"/><circle cx="20.7" cy="24.9" r="0.7" fill="#000" opacity="0.24"/><circle cx="54.3" cy="49.8" r="0.7" fill="#000" opacity="0.28"/><circle cx="19.7" cy="16.0" r="0.7" fill="#000" opacity="0.23"/><circle cx="23.5" cy="32.2" r="0.7" fill="#000" opacity="0.19"/><circle cx="0.2" cy="63.1" r="0.7" fill="#000" opacity="0.24"/><circle cx="28.6" cy="39.6" r="0.7" fill="#000" opacity="0.31"/><circle cx="53.5" cy="51.9" r="0.7" fill="#000" opacity="0.23"/><circle cx="4.3" cy="22.9" r="0.7" fill="#000" opacity="0.22"/><circle cx="51.3" cy="32.3" r="0.7" fill="#000" opacity="0.28"/><circle cx="2.6" cy="8.3" r="0.7" fill="#000" opacity="0.33"/><circle cx="20.1" cy="46.1" r="0.7" fill="#000" opacity="0.17"/><circle cx="48.1" cy="57.3" r="0.7" fill="#000" opacity="0.28"/><circle cx="50.2" cy="1.7" r="0.7" fill="#000" opacity="0.16"/><circle cx="39.3" cy="44.3" r="0.7" fill="#000" opacity="0.17"/><circle cx="8.4" cy="56.7" r="0.7" fill="#000" opacity="0.21"/><circle cx="51.9" cy="50.9" r="0.7" fill="#000" opacity="0.29"/><circle cx="46.1" cy="14.2" r="0.7" fill="#000" opacity="0.32"/><circle cx="39.1" cy="16.1" r="0.7" fill="#000" opacity="0.21"/><circle cx="39.3" cy="57.9" r="0.7" fill="#000" opacity="0.24"/><circle cx="16.3" cy="61.7" r="0.7" fill="#000" opacity="0.25"/><circle cx="37.9" cy="39.4" r="0.7" fill="#000" opacity="0.20"/><circle cx="23.8" cy="12.7" r="0.7" fill="#000" opacity="0.23"/><circle cx="40.7" cy="17.8" r="0.7" fill="#000" opacity="0.22"/><circle cx="24.1" cy="50.7" r="0.7" fill="#000" opacity="0.20"/><circle cx="49.2" cy="3.1" r="0.7" fill="#000" opacity="0.32"/><circle cx="61.8" cy="29.0" r="0.7" fill="#000" opacity="0.25"/><circle cx="44.1" cy="57.4" r="0.7" fill="#000" opacity="0.20"/><circle cx="34.3" cy="54.8" r="0.7" fill="#000" opacity="0.30"/><circle cx="23.8" cy="24.0" r="0.7" fill="#000" opacity="0.22"/><circle cx="9.4" cy="21.2" r="0.7" fill="#000" opacity="0.17"/><circle cx="14.7" cy="39.4" r="0.7" fill="#000" opacity="0.34"/><circle cx="19.0" cy="33.0" r="0.7" fill="#000" opacity="0.21"/><circle cx="61.8" cy="55.7" r="0.7" fill="#000" opacity="0.34"/><circle cx="57.3" cy="46.9" r="0.7" fill="#000" opacity="0.30"/><circle cx="14.2" cy="18.6" r="0.7" fill="#000" opacity="0.28"/><circle cx="26.7" cy="23.3" r="0.7" fill="#000" opacity="0.16"/><circle cx="31.3" cy="39.2" r="0.7" fill="#000" opacity="0.16"/><circle cx="3.5" cy="36.3" r="0.7" fill="#000" opacity="0.21"/><circle cx="33.5" cy="34.2" r="0.7" fill="#000" opacity="0.23"/><circle cx="19.3" cy="8.6" r="0.7" fill="#000" opacity="0.22"/><circle cx="53.0" cy="10.2" r="0.7" fill="#000" opacity="0.15"/><circle cx="51.3" cy="45.3" r="0.7" fill="#000" opacity="0.24"/><circle cx="4.1" cy="9.3" r="0.7" fill="#000" opacity="0.28"/><circle cx="17.3" cy="51.9" r="0.7" fill="#000" opacity="0.34"/></pattern>
<clipPath id="cpPanel"><path d="M379.0 227.3 L541.0 253.0 L564.0 260.0 L468.0 615.0 L443.5 611.0 L287.7 479.5 L312.5 455.0 L299.0 434.2 L328.0 409.8 L313.5 388.0 L341.6 365.3 L325.5 339.5 L353.5 316.0 L338.1 290.7 L368.9 272.6 L355.3 241.8 Z"/></clipPath>
<g clip-path="url(#cpPanel)">
<path d="M379.0 227.3 L541.0 253.0 L564.0 260.0 L468.0 615.0 L443.5 611.0 L287.7 479.5 L312.5 455.0 L299.0 434.2 L328.0 409.8 L313.5 388.0 L341.6 365.3 L325.5 339.5 L353.5 316.0 L338.1 290.7 L368.9 272.6 L355.3 241.8 Z" fill="#161616"/>
<path d="M365.2 274.4 L379.0 227.5 L352.8 244.6 Z" fill="#0d0d0d"/>
<path d="M379.0 227.5 L400.7 230.9 L352.8 244.6 Z" fill="#191919"/>
<linearGradient id="fB00" gradientUnits="userSpaceOnUse" x1="346.6" y1="269.8" x2="352.8" y2="244.6"><stop offset="0.25" stop-color="#0c0c0c"/><stop offset="1" stop-color="#151515"/></linearGradient>
<path d="M386.5 279.7 L365.2 274.4 L352.8 244.6 Z" fill="url(#fB00)"/>
<path d="M400.7 230.9 L386.5 279.7 L352.8 244.6 Z" fill="#1e1e1e"/>
<path d="M351.6 320.8 L365.2 274.4 L338.7 293.6 Z" fill="#0d0d0d"/>
<linearGradient id="fT01" gradientUnits="userSpaceOnUse" x1="344.7" y1="269.3" x2="338.7" y2="293.6"><stop offset="0.25" stop-color="#0f0f0f"/><stop offset="1" stop-color="#1b1b1b"/></linearGradient>
<path d="M365.2 274.4 L386.5 279.7 L338.7 293.6 Z" fill="url(#fT01)"/>
<linearGradient id="fB01" gradientUnits="userSpaceOnUse" x1="331.7" y1="313.9" x2="338.7" y2="293.6"><stop offset="0.25" stop-color="#0c0c0c"/><stop offset="1" stop-color="#151515"/></linearGradient>
<path d="M372.4 328.0 L351.6 320.8 L338.7 293.6 Z" fill="url(#fB01)"/>
<path d="M386.5 279.7 L372.4 328.0 L338.7 293.6 Z" fill="#1e1e1e"/>
<path d="M338.2 366.6 L351.6 320.8 L324.8 342.1 Z" fill="#0d0d0d"/>
<linearGradient id="fT02" gradientUnits="userSpaceOnUse" x1="334.3" y1="314.8" x2="324.8" y2="342.1"><stop offset="0.25" stop-color="#0f0f0f"/><stop offset="1" stop-color="#1b1b1b"/></linearGradient>
<path d="M351.6 320.8 L372.4 328.0 L324.8 342.1 Z" fill="url(#fT02)"/>
<linearGradient id="fB02" gradientUnits="userSpaceOnUse" x1="317.9" y1="357.6" x2="324.8" y2="342.1"><stop offset="0.25" stop-color="#0c0c0c"/><stop offset="1" stop-color="#151515"/></linearGradient>
<path d="M358.6 375.6 L338.2 366.6 L324.8 342.1 Z" fill="url(#fB02)"/>
<path d="M372.4 328.0 L358.6 375.6 L324.8 342.1 Z" fill="#1e1e1e"/>
<path d="M324.9 411.7 L338.2 366.6 L311.2 390.0 Z" fill="#0d0d0d"/>
<linearGradient id="fT03" gradientUnits="userSpaceOnUse" x1="324.4" y1="360.4" x2="311.2" y2="390.0"><stop offset="0.25" stop-color="#0f0f0f"/><stop offset="1" stop-color="#1b1b1b"/></linearGradient>
<path d="M338.2 366.6 L358.6 375.6 L311.2 390.0 Z" fill="url(#fT03)"/>
<linearGradient id="fB03" gradientUnits="userSpaceOnUse" x1="305.2" y1="400.9" x2="311.2" y2="390.0"><stop offset="0.25" stop-color="#0c0c0c"/><stop offset="1" stop-color="#151515"/></linearGradient>
<path d="M344.9 422.7 L324.9 411.7 L311.2 390.0 Z" fill="url(#fB03)"/>
<path d="M358.6 375.6 L344.9 422.7 L311.2 390.0 Z" fill="#1e1e1e"/>
<path d="M311.9 456.2 L324.9 411.7 L297.8 437.2 Z" fill="#0d0d0d"/>
<linearGradient id="fT04" gradientUnits="userSpaceOnUse" x1="314.8" y1="406.2" x2="297.8" y2="437.2"><stop offset="0.25" stop-color="#0f0f0f"/><stop offset="1" stop-color="#1b1b1b"/></linearGradient>
<path d="M324.9 411.7 L344.9 422.7 L297.8 437.2 Z" fill="url(#fT04)"/>
<linearGradient id="fB04" gradientUnits="userSpaceOnUse" x1="293.3" y1="444.0" x2="297.8" y2="437.2"><stop offset="0.25" stop-color="#0c0c0c"/><stop offset="1" stop-color="#151515"/></linearGradient>
<path d="M331.4 469.0 L311.9 456.2 L297.8 437.2 Z" fill="url(#fB04)"/>
<path d="M344.9 422.7 L331.4 469.0 L297.8 437.2 Z" fill="#1e1e1e"/>
<path d="M299.0 500.0 L311.9 456.2 L284.6 483.8 Z" fill="#0d0d0d"/>
<linearGradient id="fT05" gradientUnits="userSpaceOnUse" x1="305.5" y1="452.0" x2="284.6" y2="483.8"><stop offset="0.25" stop-color="#0f0f0f"/><stop offset="1" stop-color="#1b1b1b"/></linearGradient>
<path d="M311.9 456.2 L331.4 469.0 L284.6 483.8 Z" fill="url(#fT05)"/>
<path d="M318.1 514.7 L299.0 500.0 L284.6 483.8 Z" fill="#1b1b1b"/>
<path d="M331.4 469.0 L318.1 514.7 L284.6 483.8 Z" fill="#1e1e1e"/>
<path d="M386.5 279.7 L400.7 230.9 L374.6 248.6 Z" fill="#0d0d0d"/>
<path d="M400.7 230.9 L424.1 234.6 L374.6 248.6 Z" fill="#1d1d1d"/>
<path d="M400.7 230.9 L424.1 234.6 L374.6 248.6 Z" fill="url(#sp)" opacity="0.10"/>
<linearGradient id="fB10" gradientUnits="userSpaceOnUse" x1="368.0" y1="275.1" x2="374.6" y2="248.6"><stop offset="0.25" stop-color="#0d0d0d"/><stop offset="1" stop-color="#181818"/></linearGradient>
<path d="M409.5 285.5 L386.5 279.7 L374.6 248.6 Z" fill="url(#fB10)"/>
<path d="M424.1 234.6 L409.5 285.5 L374.6 248.6 Z" fill="#222222"/>
<path d="M424.1 234.6 L409.5 285.5 L374.6 248.6 Z" fill="url(#sp)" opacity="0.10"/>
<path d="M372.4 328.0 L386.5 279.7 L359.5 299.9 Z" fill="#0d0d0d"/>
<linearGradient id="fT11" gradientUnits="userSpaceOnUse" x1="365.8" y1="274.6" x2="359.5" y2="299.9"><stop offset="0.25" stop-color="#101010"/><stop offset="1" stop-color="#1e1e1e"/></linearGradient>
<path d="M386.5 279.7 L409.5 285.5 L359.5 299.9 Z" fill="url(#fT11)"/>
<linearGradient id="fB11" gradientUnits="userSpaceOnUse" x1="352.2" y1="321.0" x2="359.5" y2="299.9"><stop offset="0.25" stop-color="#0d0d0d"/><stop offset="1" stop-color="#181818"/></linearGradient>
<path d="M395.0 335.8 L372.4 328.0 L359.5 299.9 Z" fill="url(#fB11)"/>
<path d="M409.5 285.5 L395.0 335.8 L359.5 299.9 Z" fill="#222222"/>
<path d="M409.5 285.5 L395.0 335.8 L359.5 299.9 Z" fill="url(#sp)" opacity="0.10"/>
<path d="M358.6 375.6 L372.4 328.0 L344.9 350.7 Z" fill="#0d0d0d"/>
<linearGradient id="fT12" gradientUnits="userSpaceOnUse" x1="354.9" y1="321.9" x2="344.9" y2="350.7"><stop offset="0.25" stop-color="#101010"/><stop offset="1" stop-color="#1e1e1e"/></linearGradient>
<path d="M372.4 328.0 L395.0 335.8 L344.9 350.7 Z" fill="url(#fT12)"/>
<linearGradient id="fB12" gradientUnits="userSpaceOnUse" x1="337.9" y1="366.5" x2="344.9" y2="350.7"><stop offset="0.25" stop-color="#0d0d0d"/><stop offset="1" stop-color="#181818"/></linearGradient>
<path d="M380.7 385.5 L358.6 375.6 L344.9 350.7 Z" fill="url(#fB12)"/>
<path d="M395.0 335.8 L380.7 385.5 L344.9 350.7 Z" fill="#222222"/>
<path d="M395.0 335.8 L380.7 385.5 L344.9 350.7 Z" fill="url(#sp)" opacity="0.10"/>
<path d="M344.9 422.7 L358.6 375.6 L330.8 400.8 Z" fill="#0d0d0d"/>
<linearGradient id="fT13" gradientUnits="userSpaceOnUse" x1="344.8" y1="369.5" x2="330.8" y2="400.8"><stop offset="0.25" stop-color="#101010"/><stop offset="1" stop-color="#1e1e1e"/></linearGradient>
<path d="M358.6 375.6 L380.7 385.5 L330.8 400.8 Z" fill="url(#fT13)"/>
<linearGradient id="fB13" gradientUnits="userSpaceOnUse" x1="324.9" y1="411.7" x2="330.8" y2="400.8"><stop offset="0.25" stop-color="#0d0d0d"/><stop offset="1" stop-color="#181818"/></linearGradient>
<path d="M366.6 434.6 L344.9 422.7 L330.8 400.8 Z" fill="url(#fB13)"/>
<path d="M380.7 385.5 L366.6 434.6 L330.8 400.8 Z" fill="#222222"/>
<path d="M380.7 385.5 L366.6 434.6 L330.8 400.8 Z" fill="url(#sp)" opacity="0.10"/>
<path d="M331.4 469.0 L344.9 422.7 L316.9 450.3 Z" fill="#0d0d0d"/>
<linearGradient id="fT14" gradientUnits="userSpaceOnUse" x1="335.1" y1="417.3" x2="316.9" y2="450.3"><stop offset="0.25" stop-color="#101010"/><stop offset="1" stop-color="#1e1e1e"/></linearGradient>
<path d="M344.9 422.7 L366.6 434.6 L316.9 450.3 Z" fill="url(#fT14)"/>
<linearGradient id="fB14" gradientUnits="userSpaceOnUse" x1="312.7" y1="456.8" x2="316.9" y2="450.3"><stop offset="0.25" stop-color="#0d0d0d"/><stop offset="1" stop-color="#181818"/></linearGradient>
<path d="M352.6 483.0 L331.4 469.0 L316.9 450.3 Z" fill="url(#fB14)"/>
<path d="M366.6 434.6 L352.6 483.0 L316.9 450.3 Z" fill="#222222"/>
<path d="M366.6 434.6 L352.6 483.0 L316.9 450.3 Z" fill="url(#sp)" opacity="0.10"/>
<path d="M318.1 514.7 L331.4 469.0 L303.3 499.1 Z" fill="#0d0d0d"/>
<linearGradient id="fT15" gradientUnits="userSpaceOnUse" x1="325.6" y1="465.2" x2="303.3" y2="499.1"><stop offset="0.25" stop-color="#101010"/><stop offset="1" stop-color="#1e1e1e"/></linearGradient>
<path d="M331.4 469.0 L352.6 483.0 L303.3 499.1 Z" fill="url(#fT15)"/>
<path d="M338.9 530.7 L318.1 514.7 L303.3 499.1 Z" fill="#1f1f1f"/>
<path d="M338.9 530.7 L318.1 514.7 L303.3 499.1 Z" fill="url(#sp)" opacity="0.10"/>
<path d="M352.6 483.0 L338.9 530.7 L303.3 499.1 Z" fill="#222222"/>
<path d="M352.6 483.0 L338.9 530.7 L303.3 499.1 Z" fill="url(#sp)" opacity="0.10"/>
<path d="M409.5 285.5 L424.1 234.6 L398.3 253.0 Z" fill="#0d0d0d"/>
<path d="M424.1 234.6 L449.5 238.6 L398.3 253.0 Z" fill="#212121"/>
<path d="M424.1 234.6 L449.5 238.6 L398.3 253.0 Z" fill="url(#sp)" opacity="0.25"/>
<linearGradient id="fB20" gradientUnits="userSpaceOnUse" x1="391.3" y1="281.0" x2="398.3" y2="253.0"><stop offset="0.25" stop-color="#0d0d0d"/><stop offset="1" stop-color="#191919"/></linearGradient>
<path d="M434.5 291.7 L409.5 285.5 L398.3 253.0 Z" fill="url(#fB20)"/>
<path d="M449.5 238.6 L434.5 291.7 L398.3 253.0 Z" fill="#262626"/>
<path d="M449.5 238.6 L434.5 291.7 L398.3 253.0 Z" fill="url(#sp)" opacity="0.25"/>
<path d="M395.0 335.8 L409.5 285.5 L382.1 306.8 Z" fill="#0d0d0d"/>
<linearGradient id="fT21" gradientUnits="userSpaceOnUse" x1="388.7" y1="280.3" x2="382.1" y2="306.8"><stop offset="0.25" stop-color="#111111"/><stop offset="1" stop-color="#212121"/></linearGradient>
<path d="M409.5 285.5 L434.5 291.7 L382.1 306.8 Z" fill="url(#fT21)"/>
<linearGradient id="fB21" gradientUnits="userSpaceOnUse" x1="374.6" y1="328.7" x2="382.1" y2="306.8"><stop offset="0.25" stop-color="#0d0d0d"/><stop offset="1" stop-color="#191919"/></linearGradient>
<path d="M419.5 344.2 L395.0 335.8 L382.1 306.8 Z" fill="url(#fB21)"/>
<path d="M434.5 291.7 L419.5 344.2 L382.1 306.8 Z" fill="#262626"/>
<path d="M434.5 291.7 L419.5 344.2 L382.1 306.8 Z" fill="url(#sp)" opacity="0.25"/>
<path d="M380.7 385.5 L395.0 335.8 L366.9 360.0 Z" fill="#0d0d0d"/>
<linearGradient id="fT22" gradientUnits="userSpaceOnUse" x1="377.4" y1="329.7" x2="366.9" y2="360.0"><stop offset="0.25" stop-color="#111111"/><stop offset="1" stop-color="#212121"/></linearGradient>
<path d="M395.0 335.8 L419.5 344.2 L366.9 360.0 Z" fill="url(#fT22)"/>
<linearGradient id="fB22" gradientUnits="userSpaceOnUse" x1="359.7" y1="376.2" x2="366.9" y2="360.0"><stop offset="0.25" stop-color="#0d0d0d"/><stop offset="1" stop-color="#191919"/></linearGradient>
<path d="M404.7 396.2 L380.7 385.5 L366.9 360.0 Z" fill="url(#fB22)"/>
<path d="M419.5 344.2 L404.7 396.2 L366.9 360.0 Z" fill="#262626"/>
<path d="M419.5 344.2 L404.7 396.2 L366.9 360.0 Z" fill="url(#sp)" opacity="0.25"/>
<path d="M366.6 434.6 L380.7 385.5 L352.2 412.6 Z" fill="#0d0d0d"/>
<linearGradient id="fT23" gradientUnits="userSpaceOnUse" x1="367.0" y1="379.4" x2="352.2" y2="412.6"><stop offset="0.25" stop-color="#111111"/><stop offset="1" stop-color="#212121"/></linearGradient>
<path d="M380.7 385.5 L404.7 396.2 L352.2 412.6 Z" fill="url(#fT23)"/>
<linearGradient id="fB23" gradientUnits="userSpaceOnUse" x1="346.3" y1="423.4" x2="352.2" y2="412.6"><stop offset="0.25" stop-color="#0d0d0d"/><stop offset="1" stop-color="#191919"/></linearGradient>
<path d="M390.2 447.5 L366.6 434.6 L352.2 412.6 Z" fill="url(#fB23)"/>
<path d="M404.7 396.2 L390.2 447.5 L352.2 412.6 Z" fill="#262626"/>
<path d="M404.7 396.2 L390.2 447.5 L352.2 412.6 Z" fill="url(#sp)" opacity="0.25"/>
<path d="M352.6 483.0 L366.6 434.6 L337.8 464.5 Z" fill="#0d0d0d"/>
<linearGradient id="fT24" gradientUnits="userSpaceOnUse" x1="357.1" y1="429.4" x2="337.8" y2="464.5"><stop offset="0.25" stop-color="#111111"/><stop offset="1" stop-color="#212121"/></linearGradient>
<path d="M366.6 434.6 L390.2 447.5 L337.8 464.5 Z" fill="url(#fT24)"/>
<linearGradient id="fB24" gradientUnits="userSpaceOnUse" x1="333.8" y1="470.6" x2="337.8" y2="464.5"><stop offset="0.25" stop-color="#0d0d0d"/><stop offset="1" stop-color="#191919"/></linearGradient>
<path d="M375.8 498.1 L352.6 483.0 L337.8 464.5 Z" fill="url(#fB24)"/>
<path d="M390.2 447.5 L375.8 498.1 L337.8 464.5 Z" fill="#262626"/>
<path d="M390.2 447.5 L375.8 498.1 L337.8 464.5 Z" fill="url(#sp)" opacity="0.25"/>
<path d="M338.9 530.7 L352.6 483.0 L323.7 515.7 Z" fill="#0d0d0d"/>
<linearGradient id="fT25" gradientUnits="userSpaceOnUse" x1="347.5" y1="479.6" x2="323.7" y2="515.7"><stop offset="0.25" stop-color="#111111"/><stop offset="1" stop-color="#212121"/></linearGradient>
<path d="M352.6 483.0 L375.8 498.1 L323.7 515.7 Z" fill="url(#fT25)"/>
<path d="M361.6 548.1 L338.9 530.7 L323.7 515.7 Z" fill="#232323"/>
<path d="M361.6 548.1 L338.9 530.7 L323.7 515.7 Z" fill="url(#sp)" opacity="0.25"/>
<path d="M375.8 498.1 L361.6 548.1 L323.7 515.7 Z" fill="#262626"/>
<path d="M375.8 498.1 L361.6 548.1 L323.7 515.7 Z" fill="url(#sp)" opacity="0.25"/>
<path d="M434.5 291.7 L449.5 238.6 L424.1 257.8 Z" fill="#0d0d0d"/>
<path d="M449.5 238.6 L477.3 243.0 L424.1 257.8 Z" fill="#262626"/>
<path d="M449.5 238.6 L477.3 243.0 L424.1 257.8 Z" fill="url(#sp)" opacity="0.45"/>
<linearGradient id="fB30" gradientUnits="userSpaceOnUse" x1="416.8" y1="287.3" x2="424.1" y2="257.8"><stop offset="0.25" stop-color="#0e0e0e"/><stop offset="1" stop-color="#1c1c1c"/></linearGradient>
<path d="M461.7 298.5 L434.5 291.7 L424.1 257.8 Z" fill="url(#fB30)"/>
<path d="M477.3 243.0 L461.7 298.5 L424.1 257.8 Z" fill="#2b2b2b"/>
<path d="M477.3 243.0 L461.7 298.5 L424.1 257.8 Z" fill="url(#sp)" opacity="0.45"/>
<path d="M419.5 344.2 L434.5 291.7 L406.9 314.2 Z" fill="#0d0d0d"/>
<linearGradient id="fT31" gradientUnits="userSpaceOnUse" x1="413.8" y1="286.6" x2="406.9" y2="314.2"><stop offset="0.25" stop-color="#121212"/><stop offset="1" stop-color="#252525"/></linearGradient>
<path d="M434.5 291.7 L461.7 298.5 L406.9 314.2 Z" fill="url(#fT31)"/>
<linearGradient id="fB31" gradientUnits="userSpaceOnUse" x1="399.0" y1="337.2" x2="406.9" y2="314.2"><stop offset="0.25" stop-color="#0e0e0e"/><stop offset="1" stop-color="#1c1c1c"/></linearGradient>
<path d="M446.3 353.5 L419.5 344.2 L406.9 314.2 Z" fill="url(#fB31)"/>
<path d="M461.7 298.5 L446.3 353.5 L406.9 314.2 Z" fill="#2b2b2b"/>
<path d="M461.7 298.5 L446.3 353.5 L406.9 314.2 Z" fill="url(#sp)" opacity="0.45"/>
<path d="M404.7 396.2 L419.5 344.2 L391.0 370.1 Z" fill="#0d0d0d"/>
<linearGradient id="fT32" gradientUnits="userSpaceOnUse" x1="402.0" y1="338.2" x2="391.0" y2="370.1"><stop offset="0.25" stop-color="#121212"/><stop offset="1" stop-color="#252525"/></linearGradient>
<path d="M419.5 344.2 L446.3 353.5 L391.0 370.1 Z" fill="url(#fT32)"/>
<linearGradient id="fB32" gradientUnits="userSpaceOnUse" x1="383.6" y1="386.8" x2="391.0" y2="370.1"><stop offset="0.25" stop-color="#0e0e0e"/><stop offset="1" stop-color="#1c1c1c"/></linearGradient>
<path d="M431.0 407.9 L404.7 396.2 L391.0 370.1 Z" fill="url(#fB32)"/>
<path d="M446.3 353.5 L431.0 407.9 L391.0 370.1 Z" fill="#2b2b2b"/>
<path d="M446.3 353.5 L431.0 407.9 L391.0 370.1 Z" fill="url(#sp)" opacity="0.45"/>
<path d="M390.2 447.5 L404.7 396.2 L375.7 425.3 Z" fill="#0d0d0d"/>
<linearGradient id="fT33" gradientUnits="userSpaceOnUse" x1="391.3" y1="390.2" x2="375.7" y2="425.3"><stop offset="0.25" stop-color="#121212"/><stop offset="1" stop-color="#252525"/></linearGradient>
<path d="M404.7 396.2 L431.0 407.9 L375.7 425.3 Z" fill="url(#fT33)"/>
<linearGradient id="fB33" gradientUnits="userSpaceOnUse" x1="369.7" y1="436.3" x2="375.7" y2="425.3"><stop offset="0.25" stop-color="#0e0e0e"/><stop offset="1" stop-color="#1c1c1c"/></linearGradient>
<path d="M415.9 461.6 L390.2 447.5 L375.7 425.3 Z" fill="url(#fB33)"/>
<path d="M431.0 407.9 L415.9 461.6 L375.7 425.3 Z" fill="#2b2b2b"/>
<path d="M431.0 407.9 L415.9 461.6 L375.7 425.3 Z" fill="url(#sp)" opacity="0.45"/>
<path d="M375.8 498.1 L390.2 447.5 L360.8 479.9 Z" fill="#0d0d0d"/>
<linearGradient id="fT34" gradientUnits="userSpaceOnUse" x1="381.2" y1="442.6" x2="360.8" y2="479.9"><stop offset="0.25" stop-color="#121212"/><stop offset="1" stop-color="#252525"/></linearGradient>
<path d="M390.2 447.5 L415.9 461.6 L360.8 479.9 Z" fill="url(#fT34)"/>
<linearGradient id="fB34" gradientUnits="userSpaceOnUse" x1="356.9" y1="485.8" x2="360.8" y2="479.9"><stop offset="0.25" stop-color="#0e0e0e"/><stop offset="1" stop-color="#1c1c1c"/></linearGradient>
<path d="M401.0 514.7 L375.8 498.1 L360.8 479.9 Z" fill="url(#fB34)"/>
<path d="M415.9 461.6 L401.0 514.7 L360.8 479.9 Z" fill="#2b2b2b"/>
<path d="M415.9 461.6 L401.0 514.7 L360.8 479.9 Z" fill="url(#sp)" opacity="0.45"/>
<path d="M361.6 548.1 L375.8 498.1 L346.2 533.8 Z" fill="#0d0d0d"/>
<linearGradient id="fT35" gradientUnits="userSpaceOnUse" x1="371.4" y1="495.3" x2="346.2" y2="533.8"><stop offset="0.25" stop-color="#121212"/><stop offset="1" stop-color="#252525"/></linearGradient>
<path d="M375.8 498.1 L401.0 514.7 L346.2 533.8 Z" fill="url(#fT35)"/>
<path d="M386.3 567.1 L361.6 548.1 L346.2 533.8 Z" fill="#282828"/>
<path d="M386.3 567.1 L361.6 548.1 L346.2 533.8 Z" fill="url(#sp)" opacity="0.45"/>
<path d="M401.0 514.7 L386.3 567.1 L346.2 533.8 Z" fill="#2b2b2b"/>
<path d="M401.0 514.7 L386.3 567.1 L346.2 533.8 Z" fill="url(#sp)" opacity="0.45"/>
<path d="M461.7 298.5 L477.3 243.0 L452.4 263.1 Z" fill="#0d0d0d"/>
<path d="M477.3 243.0 L507.6 247.8 L452.4 263.1 Z" fill="#2d2d2d"/>
<path d="M477.3 243.0 L507.6 247.8 L452.4 263.1 Z" fill="url(#sp)" opacity="0.70"/>
<linearGradient id="fB40" gradientUnits="userSpaceOnUse" x1="444.6" y1="294.2" x2="452.4" y2="263.1"><stop offset="0.25" stop-color="#0f0f0f"/><stop offset="1" stop-color="#202020"/></linearGradient>
<path d="M491.5 306.0 L461.7 298.5 L452.4 263.1 Z" fill="url(#fB40)"/>
<path d="M507.6 247.8 L491.5 306.0 L452.4 263.1 Z" fill="#323232"/>
<path d="M507.6 247.8 L491.5 306.0 L452.4 263.1 Z" fill="url(#sp)" opacity="0.70"/>
<path d="M446.3 353.5 L461.7 298.5 L434.1 322.4 Z" fill="#0d0d0d"/>
<linearGradient id="fT41" gradientUnits="userSpaceOnUse" x1="441.3" y1="293.4" x2="434.1" y2="322.4"><stop offset="0.25" stop-color="#131313"/><stop offset="1" stop-color="#2b2b2b"/></linearGradient>
<path d="M461.7 298.5 L491.5 306.0 L434.1 322.4 Z" fill="url(#fT41)"/>
<linearGradient id="fB41" gradientUnits="userSpaceOnUse" x1="425.8" y1="346.4" x2="434.1" y2="322.4"><stop offset="0.25" stop-color="#0f0f0f"/><stop offset="1" stop-color="#202020"/></linearGradient>
<path d="M475.6 363.6 L446.3 353.5 L434.1 322.4 Z" fill="url(#fB41)"/>
<path d="M491.5 306.0 L475.6 363.6 L434.1 322.4 Z" fill="#323232"/>
<path d="M491.5 306.0 L475.6 363.6 L434.1 322.4 Z" fill="url(#sp)" opacity="0.70"/>
<path d="M431.0 407.9 L446.3 353.5 L417.4 381.1 Z" fill="#0d0d0d"/>
<linearGradient id="fT42" gradientUnits="userSpaceOnUse" x1="429.0" y1="347.5" x2="417.4" y2="381.1"><stop offset="0.25" stop-color="#131313"/><stop offset="1" stop-color="#2b2b2b"/></linearGradient>
<path d="M446.3 353.5 L475.6 363.6 L417.4 381.1 Z" fill="url(#fT42)"/>
<linearGradient id="fB42" gradientUnits="userSpaceOnUse" x1="409.7" y1="398.4" x2="417.4" y2="381.1"><stop offset="0.25" stop-color="#0f0f0f"/><stop offset="1" stop-color="#202020"/></linearGradient>
<path d="M459.8 420.7 L431.0 407.9 L417.4 381.1 Z" fill="url(#fB42)"/>
<path d="M475.6 363.6 L459.8 420.7 L417.4 381.1 Z" fill="#323232"/>
<path d="M475.6 363.6 L459.8 420.7 L417.4 381.1 Z" fill="url(#sp)" opacity="0.70"/>
<path d="M415.9 461.6 L431.0 407.9 L401.5 439.2 Z" fill="#0d0d0d"/>
<linearGradient id="fT43" gradientUnits="userSpaceOnUse" x1="418.0" y1="402.1" x2="401.5" y2="439.2"><stop offset="0.25" stop-color="#131313"/><stop offset="1" stop-color="#2b2b2b"/></linearGradient>
<path d="M431.0 407.9 L459.8 420.7 L401.5 439.2 Z" fill="url(#fT43)"/>
<linearGradient id="fB43" gradientUnits="userSpaceOnUse" x1="395.4" y1="450.4" x2="401.5" y2="439.2"><stop offset="0.25" stop-color="#0f0f0f"/><stop offset="1" stop-color="#202020"/></linearGradient>
<path d="M444.2 477.1 L415.9 461.6 L401.5 439.2 Z" fill="url(#fB43)"/>
<path d="M459.8 420.7 L444.2 477.1 L401.5 439.2 Z" fill="#323232"/>
<path d="M459.8 420.7 L444.2 477.1 L401.5 439.2 Z" fill="url(#sp)" opacity="0.70"/>
<path d="M401.0 514.7 L415.9 461.6 L386.0 496.7 Z" fill="#0d0d0d"/>
<linearGradient id="fT44" gradientUnits="userSpaceOnUse" x1="407.7" y1="457.1" x2="386.0" y2="496.7"><stop offset="0.25" stop-color="#131313"/><stop offset="1" stop-color="#2b2b2b"/></linearGradient>
<path d="M415.9 461.6 L444.2 477.1 L386.0 496.7 Z" fill="url(#fT44)"/>
<linearGradient id="fB44" gradientUnits="userSpaceOnUse" x1="382.3" y1="502.4" x2="386.0" y2="496.7"><stop offset="0.25" stop-color="#0f0f0f"/><stop offset="1" stop-color="#202020"/></linearGradient>
<path d="M428.7 532.9 L401.0 514.7 L386.0 496.7 Z" fill="url(#fB44)"/>
<path d="M444.2 477.1 L428.7 532.9 L386.0 496.7 Z" fill="#323232"/>
<path d="M444.2 477.1 L428.7 532.9 L386.0 496.7 Z" fill="url(#sp)" opacity="0.70"/>
<path d="M386.3 567.1 L401.0 514.7 L370.9 553.4 Z" fill="#0d0d0d"/>
<linearGradient id="fT45" gradientUnits="userSpaceOnUse" x1="397.7" y1="512.5" x2="370.9" y2="553.4"><stop offset="0.25" stop-color="#131313"/><stop offset="1" stop-color="#2b2b2b"/></linearGradient>
<path d="M401.0 514.7 L428.7 532.9 L370.9 553.4 Z" fill="url(#fT45)"/>
<path d="M413.5 588.0 L386.3 567.1 L370.9 553.4 Z" fill="#2f2f2f"/>
<path d="M413.5 588.0 L386.3 567.1 L370.9 553.4 Z" fill="url(#sp)" opacity="0.70"/>
<path d="M428.7 532.9 L413.5 588.0 L370.9 553.4 Z" fill="#323232"/>
<path d="M428.7 532.9 L413.5 588.0 L370.9 553.4 Z" fill="url(#sp)" opacity="0.70"/>
<path d="M491.5 306.0 L507.6 247.8 L483.4 269.0 Z" fill="#0d0d0d"/>
<path d="M507.6 247.8 L541.0 253.0 L483.4 269.0 Z" fill="#353535"/>
<path d="M507.6 247.8 L541.0 253.0 L483.4 269.0 Z" fill="url(#sp)" opacity="1.00"/>
<linearGradient id="fB50" gradientUnits="userSpaceOnUse" x1="475.2" y1="301.9" x2="483.4" y2="269.0"><stop offset="0.25" stop-color="#101010"/><stop offset="1" stop-color="#242424"/></linearGradient>
<path d="M524.3 314.1 L491.5 306.0 L483.4 269.0 Z" fill="url(#fB50)"/>
<path d="M541.0 253.0 L524.3 314.1 L483.4 269.0 Z" fill="#3a3a3a"/>
<path d="M541.0 253.0 L524.3 314.1 L483.4 269.0 Z" fill="url(#sp)" opacity="1.00"/>
<path d="M475.6 363.6 L491.5 306.0 L464.0 331.4 Z" fill="#0d0d0d"/>
<linearGradient id="fT51" gradientUnits="userSpaceOnUse" x1="471.6" y1="301.0" x2="464.0" y2="331.4"><stop offset="0.25" stop-color="#141414"/><stop offset="1" stop-color="#313131"/></linearGradient>
<path d="M491.5 306.0 L524.3 314.1 L464.0 331.4 Z" fill="url(#fT51)"/>
<linearGradient id="fB51" gradientUnits="userSpaceOnUse" x1="455.3" y1="356.6" x2="464.0" y2="331.4"><stop offset="0.25" stop-color="#101010"/><stop offset="1" stop-color="#242424"/></linearGradient>
<path d="M507.8 374.8 L475.6 363.6 L464.0 331.4 Z" fill="url(#fB51)"/>
<path d="M524.3 314.1 L507.8 374.8 L464.0 331.4 Z" fill="#3a3a3a"/>
<path d="M524.3 314.1 L507.8 374.8 L464.0 331.4 Z" fill="url(#sp)" opacity="1.00"/>
<path d="M459.8 420.7 L475.6 363.6 L446.5 393.2 Z" fill="#0d0d0d"/>
<linearGradient id="fT52" gradientUnits="userSpaceOnUse" x1="458.8" y1="357.8" x2="446.5" y2="393.2"><stop offset="0.25" stop-color="#141414"/><stop offset="1" stop-color="#313131"/></linearGradient>
<path d="M475.6 363.6 L507.8 374.8 L446.5 393.2 Z" fill="url(#fT52)"/>
<linearGradient id="fB52" gradientUnits="userSpaceOnUse" x1="438.5" y1="411.2" x2="446.5" y2="393.2"><stop offset="0.25" stop-color="#101010"/><stop offset="1" stop-color="#242424"/></linearGradient>
<path d="M491.5 434.8 L459.8 420.7 L446.5 393.2 Z" fill="url(#fB52)"/>
<path d="M507.8 374.8 L491.5 434.8 L446.5 393.2 Z" fill="#3a3a3a"/>
<path d="M507.8 374.8 L491.5 434.8 L446.5 393.2 Z" fill="url(#sp)" opacity="1.00"/>
<path d="M444.2 477.1 L459.8 420.7 L430.0 454.5 Z" fill="#0d0d0d"/>
<linearGradient id="fT53" gradientUnits="userSpaceOnUse" x1="447.5" y1="415.2" x2="430.0" y2="454.5"><stop offset="0.25" stop-color="#141414"/><stop offset="1" stop-color="#313131"/></linearGradient>
<path d="M459.8 420.7 L491.5 434.8 L430.0 454.5 Z" fill="url(#fT53)"/>
<linearGradient id="fB53" gradientUnits="userSpaceOnUse" x1="423.7" y1="465.9" x2="430.0" y2="454.5"><stop offset="0.25" stop-color="#101010"/><stop offset="1" stop-color="#242424"/></linearGradient>
<path d="M475.3 494.2 L444.2 477.1 L430.0 454.5 Z" fill="url(#fB53)"/>
<path d="M491.5 434.8 L475.3 494.2 L430.0 454.5 Z" fill="#3a3a3a"/>
<path d="M491.5 434.8 L475.3 494.2 L430.0 454.5 Z" fill="url(#sp)" opacity="1.00"/>
<path d="M428.7 532.9 L444.2 477.1 L413.9 515.1 Z" fill="#0d0d0d"/>
<linearGradient id="fT54" gradientUnits="userSpaceOnUse" x1="436.9" y1="473.1" x2="413.9" y2="515.1"><stop offset="0.25" stop-color="#141414"/><stop offset="1" stop-color="#313131"/></linearGradient>
<path d="M444.2 477.1 L475.3 494.2 L413.9 515.1 Z" fill="url(#fT54)"/>
<linearGradient id="fB54" gradientUnits="userSpaceOnUse" x1="410.2" y1="520.7" x2="413.9" y2="515.1"><stop offset="0.25" stop-color="#101010"/><stop offset="1" stop-color="#242424"/></linearGradient>
<path d="M459.3 553.0 L428.7 532.9 L413.9 515.1 Z" fill="url(#fB54)"/>
<path d="M475.3 494.2 L459.3 553.0 L413.9 515.1 Z" fill="#3a3a3a"/>
<path d="M475.3 494.2 L459.3 553.0 L413.9 515.1 Z" fill="url(#sp)" opacity="1.00"/>
<path d="M413.5 588.0 L428.7 532.9 L398.2 574.9 Z" fill="#0d0d0d"/>
<linearGradient id="fT55" gradientUnits="userSpaceOnUse" x1="426.7" y1="531.5" x2="398.2" y2="574.9"><stop offset="0.25" stop-color="#141414"/><stop offset="1" stop-color="#313131"/></linearGradient>
<path d="M428.7 532.9 L459.3 553.0 L398.2 574.9 Z" fill="url(#fT55)"/>
<path d="M443.5 611.0 L413.5 588.0 L398.2 574.9 Z" fill="#373737"/>
<path d="M443.5 611.0 L413.5 588.0 L398.2 574.9 Z" fill="url(#sp)" opacity="1.00"/>
<path d="M459.3 553.0 L443.5 611.0 L398.2 574.9 Z" fill="#3a3a3a"/>
<path d="M459.3 553.0 L443.5 611.0 L398.2 574.9 Z" fill="url(#sp)" opacity="1.00"/>
<path d="M379.0 227.3 L541.0 253.0 L564.0 260.0 L468.0 615.0 L443.5 611.0 L287.7 479.5 L312.5 455.0 L299.0 434.2 L328.0 409.8 L313.5 388.0 L341.6 365.3 L325.5 339.5 L353.5 316.0 L338.1 290.7 L368.9 272.6 L355.3 241.8 Z" fill="url(#gPanel)"/>
</g>
<path d="M541.0 253.0 L564.0 260.0 L468.0 615.0 L443.5 611.0 Z" fill="#3c3c3c"/>
<path d="M541.0 253.0 L564.0 260.0 L468.0 615.0 L443.5 611.0 Z" fill="url(#sp)"/>
<path d="M541 253 L443.5 611" stroke="#333" stroke-width="1" fill="none"/>
<path d="M-3.7 393.9 L-2.8 393.1 L-2.0 392.2 L-1.2 391.3 L-0.3 390.4 L0.5 389.5 L1.4 388.7 L2.2 387.8 L3.1 386.9 L3.9 386.0 L4.7 385.1 L5.6 384.3 L6.4 383.4 L7.2 382.5 L7.9 381.7 L8.7 380.9 L9.5 380.0 L10.2 379.2 L11.0 378.4 L11.7 377.5 L12.5 376.7 L13.2 375.8 L14.0 375.0 L14.8 374.1 L15.5 373.2 L16.2 372.4 L16.9 371.6 L17.5 370.9 L18.2 370.2 L18.8 369.4 L19.5 368.6 L20.3 367.7 L21.0 366.8 L21.9 365.7 L22.8 364.5 L23.8 363.2 L24.9 361.7 L26.1 359.9 L27.5 357.9 L28.9 355.8 L30.4 353.5 L32.0 351.1 L33.5 348.7 L35.2 346.3 L36.8 343.9 L38.4 341.6 L39.9 339.4 L41.4 337.3 L42.9 335.5 L44.3 333.8 L45.8 332.2 L47.2 330.6 L48.6 329.1 L50.1 327.7 L51.5 326.3 L52.9 324.9 L54.3 323.7 L55.7 322.5 L57.1 321.3 L58.5 320.2 L59.9 319.1 L61.3 318.2 L62.6 317.3 L64.0 316.4 L65.4 315.6 L66.7 314.8 L68.1 314.1 L69.5 313.5 L70.9 312.8 L72.2 312.2 L73.5 311.7 L74.9 311.1 L76.1 310.7 L77.2 310.3 L78.2 309.9 L79.2 309.7 L80.1 309.4 L81.0 309.2 L81.8 309.1 L82.7 308.9 L83.6 308.8 L84.5 308.7 L85.5 308.6 L86.5 308.5 L87.6 308.5 L88.8 308.4 L90.0 308.3 L91.1 308.3 L92.0 308.2 L92.9 308.2 L93.6 308.2 L94.3 308.3 L94.9 308.3 L95.5 308.4 L96.2 308.6 L96.9 308.8 L97.8 309.1 L98.9 309.6 L100.1 310.1 L101.4 310.8 L102.7 311.5 L104.1 312.3 L105.6 313.2 L107.0 314.1 L108.4 315.1 L109.9 316.1 L111.3 317.2 L112.6 318.3 L114.0 319.5 L115.3 320.7 L116.6 322.1 L118.0 323.6 L119.3 325.1 L120.7 326.8 L122.1 328.4 L123.4 330.1 L124.7 331.9 L126.0 333.6 L127.2 335.3 L128.3 336.9 L129.4 338.5 L130.4 340.0 L131.3 341.4 L132.1 342.8 L132.8 344.0 L133.5 345.3 L134.2 346.6 L134.9 348.0 L135.5 349.4 L136.3 350.9 L137.0 352.6 L137.8 354.5 L138.7 356.5 L139.7 358.8 L140.7 361.3 L141.8 364.1 L142.9 367.0 L144.0 370.0 L145.2 373.1 L146.4 376.2 L147.5 379.2 L148.6 382.1 L149.7 384.8 L150.7 387.3 L151.6 389.5 L152.5 391.5 L153.3 393.2 L154.0 394.7 L154.7 396.1 L155.4 397.4 L156.1 398.5 L156.7 399.6 L157.4 400.7 L158.0 401.7 L158.7 402.7 L159.4 403.7 L160.1 404.8 L160.9 405.9 L161.6 407.0 L162.4 408.0 L163.2 409.1 L164.0 410.2 L164.8 411.3 L165.7 412.3 L166.6 413.5 L167.6 414.6 L168.7 415.7 L169.9 416.9 L171.2 418.1 L172.5 419.4 L173.9 420.7 L175.5 422.1 L177.1 423.6 L178.8 425.1 L180.6 426.6 L182.4 428.1 L184.3 429.6 L186.2 431.0 L188.1 432.3 L190.1 433.6 L192.1 434.7 L194.1 435.7 L196.0 436.6 L198.0 437.3 L200.0 438.0 L201.9 438.6 L203.9 439.1 L205.9 439.5 L207.9 439.9 L209.9 440.2 L211.8 440.4 L213.8 440.5 L215.7 440.6 L217.8 440.6 L219.9 440.5 L222.0 440.4 L224.0 440.1 L226.0 439.8 L227.9 439.4 L229.8 439.0 L231.7 438.6 L233.5 438.1 L235.3 437.6 L237.0 437.0 L238.6 436.5 L240.3 435.9 L241.9 435.3 L243.5 434.7 L245.1 434.0 L246.7 433.3 L248.4 432.5 L250.0 431.7 L251.6 430.8 L253.2 429.8 L254.7 428.7 L256.3 427.6 L257.8 426.4 L259.3 425.1 L260.8 423.7 L262.2 422.2 L263.5 420.7 L264.7 419.2 L266.0 417.7 L267.2 416.2 L268.3 414.6 L269.5 413.1 L270.7 411.6 L271.9 410.2 L273.1 408.7 L274.4 407.3 L275.7 405.9 L277.0 404.4 L278.4 402.9 L279.8 401.4 L281.2 399.9 L282.6 398.3 L284.0 396.7 L285.5 395.1 L286.9 393.4 L288.4 391.7 L289.8 389.9 L291.3 388.0 L292.7 386.1 L294.2 384.1 L295.6 382.1 L297.0 380.1 L298.4 378.1 L299.8 376.1 L301.1 374.1 L302.5 372.2 L303.9 370.4 L305.2 368.7 L306.5 367.0 L307.8 365.4 L309.2 363.8 L310.5 362.2 L311.9 360.7 L313.2 359.2 L314.6 357.8 L315.9 356.4 L317.2 355.1 L318.5 353.8 L319.8 352.5 L321.1 351.4 L322.4 350.2 L323.7 349.2 L324.9 348.2 L326.2 347.2 L327.5 346.3 L328.7 345.4 L330.0 344.5 L331.2 343.7 L332.5 343.0 L333.7 342.3 L334.9 341.6 L336.2 341.0 L337.4 340.4 L338.6 339.8 L339.9 339.3 L341.1 338.7 L342.4 338.3 L343.6 337.8 L344.8 337.4 L345.9 337.1 L347.0 336.8 L348.0 336.6 L348.9 336.4 L349.6 336.3 L350.2 336.3 L350.6 336.3 L350.9 336.3 L351.1 336.3 L351.4 336.4 L351.8 336.5 L352.4 336.7 L353.0 337.0 L353.9 337.3 L354.8 337.7 L355.9 338.2 L357.1 338.7 L358.3 339.1 L359.5 339.6 L360.6 340.0 L361.8 340.5 L363.0 341.1 L364.3 341.6 L365.6 342.2 L367.0 342.8 L368.3 343.4 L369.7 344.1 L371.1 344.7 L372.5 345.3 L373.9 346.0 L375.3 346.6 L376.7 347.2 L378.1 347.8 L379.5 348.5 L381.0 349.1 L382.4 349.8 L383.8 350.4 L385.2 351.0 L386.6 351.7 L387.9 352.3 L389.2 352.8 L390.4 353.4 L391.5 353.9 L392.6 354.5 L393.7 355.0 L394.7 355.5 L395.7 356.0 L396.7 356.4 L397.7 356.9 L398.6 357.4 L399.6 357.9 L400.6 358.4 L401.6 358.9 L402.7 359.3 L411.3 350.7 L410.3 350.2 L409.3 349.7 L408.4 349.2 L407.4 348.7 L406.4 348.2 L405.4 347.8 L404.4 347.3 L403.4 346.8 L402.3 346.2 L401.2 345.7 L400.0 345.2 L398.8 344.6 L397.6 344.0 L396.2 343.4 L394.9 342.8 L393.5 342.2 L392.1 341.5 L390.6 340.9 L389.2 340.2 L387.8 339.6 L386.3 338.9 L384.9 338.3 L383.5 337.6 L382.1 337.0 L380.8 336.4 L379.4 335.8 L378.0 335.2 L376.6 334.6 L375.2 333.9 L373.9 333.3 L372.5 332.7 L371.1 332.1 L369.7 331.5 L368.3 330.9 L366.9 330.3 L365.7 329.9 L364.6 329.5 L363.7 329.1 L362.7 328.7 L361.7 328.2 L360.6 327.8 L359.4 327.3 L358.0 326.8 L356.5 326.4 L354.9 326.1 L353.0 325.8 L351.1 325.7 L349.2 325.7 L347.3 325.9 L345.5 326.1 L343.7 326.4 L342.0 326.8 L340.3 327.3 L338.6 327.8 L336.9 328.3 L335.2 328.9 L333.6 329.5 L332.0 330.2 L330.4 330.9 L328.8 331.6 L327.3 332.4 L325.7 333.2 L324.2 334.0 L322.7 334.9 L321.1 335.8 L319.6 336.8 L318.1 337.8 L316.6 338.9 L315.1 340.0 L313.6 341.1 L312.1 342.3 L310.6 343.6 L309.1 344.9 L307.7 346.2 L306.2 347.6 L304.7 349.0 L303.3 350.5 L301.9 352.0 L300.4 353.5 L299.0 355.1 L297.6 356.7 L296.1 358.4 L294.7 360.1 L293.3 361.8 L291.8 363.6 L290.4 365.5 L288.9 367.5 L287.5 369.4 L286.1 371.4 L284.7 373.5 L283.3 375.5 L281.9 377.4 L280.6 379.4 L279.2 381.2 L277.9 383.0 L276.6 384.7 L275.2 386.4 L273.9 388.0 L272.5 389.6 L271.1 391.1 L269.7 392.6 L268.4 394.2 L267.0 395.7 L265.6 397.2 L264.2 398.7 L262.8 400.2 L261.5 401.7 L260.1 403.3 L258.8 404.8 L257.4 406.4 L256.2 408.0 L255.0 409.6 L253.8 411.1 L252.7 412.6 L251.5 414.0 L250.4 415.3 L249.3 416.5 L248.3 417.7 L247.2 418.7 L246.2 419.6 L245.1 420.4 L244.0 421.2 L242.9 422.0 L241.8 422.7 L240.7 423.3 L239.5 423.9 L238.3 424.4 L237.1 425.0 L235.9 425.5 L234.6 426.0 L233.3 426.5 L232.0 426.9 L230.6 427.4 L229.2 427.8 L227.8 428.2 L226.4 428.6 L225.0 429.0 L223.7 429.3 L222.3 429.5 L221.0 429.7 L219.8 429.9 L218.6 430.0 L217.4 430.0 L216.3 430.0 L215.0 429.9 L213.7 429.9 L212.5 429.7 L211.2 429.5 L210.0 429.3 L208.8 429.1 L207.6 428.8 L206.3 428.4 L205.1 428.0 L203.8 427.5 L202.6 426.9 L201.3 426.3 L200.0 425.6 L198.6 424.7 L197.1 423.6 L195.5 422.4 L193.9 421.2 L192.3 419.8 L190.7 418.5 L189.1 417.1 L187.5 415.7 L186.1 414.3 L184.7 413.1 L183.4 411.9 L182.3 410.8 L181.3 409.8 L180.4 408.8 L179.6 407.9 L178.8 407.0 L178.1 406.1 L177.4 405.2 L176.7 404.3 L176.0 403.3 L175.3 402.4 L174.6 401.3 L173.9 400.2 L173.1 399.1 L172.5 398.2 L171.8 397.2 L171.3 396.3 L170.7 395.5 L170.2 394.5 L169.6 393.6 L169.0 392.5 L168.4 391.2 L167.7 389.8 L167.0 388.3 L166.2 386.5 L165.3 384.4 L164.3 382.0 L163.3 379.3 L162.2 376.5 L161.1 373.5 L159.9 370.4 L158.7 367.3 L157.6 364.3 L156.5 361.3 L155.3 358.5 L154.3 355.8 L153.3 353.5 L152.4 351.4 L151.5 349.5 L150.8 347.8 L150.0 346.1 L149.3 344.6 L148.5 343.1 L147.8 341.6 L147.0 340.2 L146.1 338.7 L145.2 337.2 L144.3 335.7 L143.2 334.1 L142.0 332.4 L140.8 330.6 L139.5 328.8 L138.2 327.0 L136.8 325.1 L135.3 323.3 L133.9 321.5 L132.4 319.7 L130.8 317.9 L129.2 316.2 L127.7 314.6 L126.0 313.1 L124.4 311.6 L122.7 310.3 L121.0 308.9 L119.3 307.6 L117.5 306.4 L115.7 305.3 L113.9 304.2 L112.2 303.2 L110.4 302.3 L108.7 301.4 L107.0 300.6 L105.2 299.9 L103.4 299.2 L101.5 298.7 L99.7 298.2 L97.8 297.9 L96.1 297.7 L94.4 297.6 L92.8 297.6 L91.3 297.6 L90.0 297.7 L88.7 297.8 L87.5 297.9 L86.4 297.9 L85.1 298.0 L83.8 298.1 L82.4 298.2 L81.0 298.4 L79.6 298.6 L78.1 298.8 L76.6 299.1 L75.1 299.4 L73.6 299.8 L72.0 300.3 L70.5 300.8 L68.9 301.3 L67.4 301.9 L65.8 302.5 L64.2 303.2 L62.6 303.9 L60.9 304.7 L59.2 305.5 L57.5 306.4 L55.8 307.4 L54.0 308.4 L52.3 309.5 L50.6 310.6 L48.9 311.9 L47.2 313.1 L45.6 314.4 L44.0 315.7 L42.4 317.1 L40.8 318.5 L39.2 320.0 L37.6 321.6 L36.0 323.2 L34.5 324.8 L32.9 326.6 L31.3 328.4 L29.7 330.3 L28.1 332.3 L26.4 334.5 L24.7 336.9 L23.0 339.3 L21.4 341.8 L19.7 344.3 L18.1 346.7 L16.6 349.1 L15.1 351.3 L13.7 353.4 L12.5 355.3 L11.3 356.9 L10.3 358.3 L9.3 359.6 L8.5 360.7 L7.8 361.6 L7.1 362.5 L6.4 363.2 L5.8 364.0 L5.2 364.7 L4.6 365.4 L3.9 366.1 L3.2 366.9 L2.5 367.8 L1.7 368.6 L1.0 369.5 L0.3 370.3 L-0.4 371.1 L-1.1 371.9 L-1.9 372.7 L-2.6 373.5 L-3.3 374.3 L-4.1 375.1 L-4.8 375.9 L-5.6 376.8 L-6.4 377.6 L-7.2 378.5 L-8.0 379.3 L-8.8 380.2 L-9.6 381.0 L-10.4 381.9 L-11.3 382.8 L-12.1 383.7 L-12.9 384.5 L-13.8 385.4 L-14.6 386.3 L-15.5 387.2 L-16.3 388.1 Z" fill="url(#fadeB)"/>
<path d="M-8.3 392.1 L-7.4 391.9 L-6.6 391.7 L-5.8 391.5 L-4.9 391.3 L-4.1 391.1 L-3.3 390.9 L-2.4 390.6 L-1.6 390.4 L-0.7 390.2 L0.1 390.0 L1.0 389.8 L1.8 389.6 L2.6 389.4 L3.4 389.2 L4.3 388.9 L5.2 388.7 L6.0 388.5 L6.9 388.3 L7.8 388.0 L8.7 387.8 L9.6 387.6 L10.5 387.3 L11.4 387.0 L12.2 386.8 L12.9 386.5 L13.6 386.3 L14.3 386.1 L15.0 385.9 L15.7 385.6 L16.5 385.4 L17.4 385.0 L18.2 384.7 L19.1 384.3 L20.0 383.8 L21.0 383.3 L21.9 382.7 L22.8 382.1 L23.7 381.4 L24.6 380.7 L25.4 380.0 L26.3 379.3 L27.1 378.5 L27.9 377.8 L28.7 377.0 L29.5 376.3 L30.3 375.5 L31.1 374.7 L31.9 374.0 L32.6 373.2 L33.4 372.4 L34.2 371.6 L35.0 370.8 L35.8 370.0 L36.6 369.2 L37.4 368.3 L38.2 367.5 L38.9 366.6 L39.7 365.7 L40.5 364.8 L41.3 363.9 L42.1 363.0 L42.9 362.1 L43.6 361.1 L44.4 360.2 L45.2 359.2 L45.9 358.3 L46.7 357.3 L47.5 356.3 L48.2 355.3 L49.0 354.4 L49.7 353.4 L50.5 352.4 L51.2 351.4 L52.0 350.4 L52.8 349.4 L53.5 348.4 L54.3 347.4 L55.1 346.4 L55.9 345.4 L56.6 344.3 L57.4 343.3 L58.2 342.3 L58.9 341.2 L59.7 340.2 L60.4 339.1 L61.2 338.1 L61.9 337.0 L62.6 336.0 L63.3 334.9 L64.0 333.9 L64.7 332.8 L65.4 331.8 L66.1 330.8 L66.8 329.8 L67.5 328.8 L68.3 327.8 L69.0 326.8 L69.8 325.8 L70.6 324.7 L71.4 323.7 L72.2 322.6 L73.0 321.6 L73.8 320.5 L74.6 319.5 L75.4 318.5 L76.2 317.4 L77.0 316.4 L77.7 315.4 L78.5 314.4 L79.1 313.4 L79.8 312.5 L80.3 311.6 L80.8 310.8 L81.3 310.1 L81.7 309.4 L82.2 308.7 L82.7 308.0 L83.2 307.4 L83.8 306.7 L84.6 305.9 L85.4 305.0 L86.4 304.1 L87.5 303.1 L88.6 302.0 L89.8 301.0 L91.0 300.0 L92.2 299.0 L93.4 298.0 L94.6 297.1 L95.7 296.2 L96.9 295.5 L97.9 294.8 L98.9 294.2 L99.9 293.7 L100.9 293.2 L101.9 292.7 L102.8 292.3 L103.8 292.0 L104.8 291.6 L105.8 291.3 L106.8 291.0 L107.9 290.7 L109.1 290.4 L110.3 290.1 L111.5 289.9 L112.8 289.7 L114.1 289.5 L115.6 289.3 L117.0 289.2 L118.5 289.1 L120.0 289.0 L121.5 288.9 L122.9 288.8 L124.3 288.8 L125.7 288.8 L126.9 288.8 L128.0 288.8 L129.1 288.9 L130.1 288.9 L131.1 289.0 L132.0 289.1 L132.8 289.2 L133.7 289.4 L134.5 289.6 L135.3 289.7 L136.1 289.9 L136.9 290.2 L137.7 290.4 L138.5 290.7 L139.3 291.0 L140.1 291.4 L140.9 291.7 L141.7 292.1 L142.5 292.6 L143.3 293.0 L144.1 293.5 L145.0 294.0 L145.8 294.6 L146.6 295.1 L147.5 295.7 L148.3 296.2 L149.0 296.7 L149.8 297.3 L150.5 297.9 L151.3 298.5 L152.0 299.1 L152.7 299.7 L153.5 300.3 L154.2 300.9 L154.9 301.6 L155.6 302.3 L156.3 303.0 L157.1 303.7 L157.8 304.4 L158.5 305.0 L159.1 305.6 L159.6 306.2 L160.1 306.7 L160.7 307.3 L161.2 308.0 L161.8 308.8 L162.5 309.7 L163.2 310.8 L164.0 312.1 L164.9 313.6 L165.9 315.3 L166.9 317.1 L168.0 319.1 L169.1 321.3 L170.3 323.5 L171.4 325.8 L172.6 328.2 L173.8 330.5 L175.0 332.9 L176.2 335.2 L177.3 337.4 L178.4 339.6 L179.5 341.8 L180.6 344.1 L181.8 346.4 L182.9 348.7 L184.0 351.0 L185.1 353.4 L186.3 355.7 L187.4 358.0 L188.6 360.3 L189.8 362.5 L191.0 364.7 L192.2 366.9 L193.4 369.1 L194.6 371.3 L195.9 373.4 L197.1 375.6 L198.4 377.7 L199.6 379.8 L200.9 381.8 L202.2 383.8 L203.5 385.8 L204.7 387.7 L206.0 389.5 L207.3 391.2 L208.5 392.9 L209.8 394.5 L211.0 396.0 L212.3 397.5 L213.5 398.9 L214.8 400.3 L216.0 401.7 L217.3 403.0 L218.6 404.3 L219.9 405.5 L221.2 406.7 L222.6 407.8 L224.0 409.0 L225.3 410.0 L226.7 411.1 L228.1 412.0 L229.5 413.0 L230.9 413.9 L232.3 414.7 L233.8 415.5 L235.2 416.3 L236.6 417.0 L238.0 417.7 L239.5 418.3 L241.0 418.9 L242.5 419.5 L244.0 420.1 L245.5 420.6 L247.0 421.1 L248.6 421.5 L250.2 421.9 L251.7 422.2 L253.3 422.4 L254.9 422.6 L256.5 422.8 L258.1 422.9 L259.7 422.9 L261.2 422.8 L262.8 422.7 L264.3 422.5 L265.8 422.3 L267.3 422.0 L268.8 421.7 L270.3 421.3 L271.8 420.8 L273.2 420.3 L274.6 419.8 L276.1 419.2 L277.6 418.5 L279.0 417.7 L280.3 416.9 L281.7 416.1 L282.9 415.2 L284.2 414.4 L285.4 413.5 L286.6 412.6 L287.8 411.7 L288.9 410.9 L290.1 410.0 L291.2 409.1 L292.4 408.3 L293.6 407.4 L294.7 406.5 L295.9 405.6 L297.1 404.6 L298.3 403.6 L299.6 402.6 L300.8 401.5 L302.1 400.3 L303.4 399.0 L304.7 397.7 L306.1 396.3 L307.5 394.9 L308.9 393.3 L310.4 391.7 L311.9 390.1 L313.4 388.4 L314.9 386.7 L316.3 384.9 L317.8 383.2 L319.2 381.4 L320.5 379.7 L321.8 378.0 L323.0 376.2 L324.2 374.4 L325.2 372.6 L326.3 370.8 L327.2 369.1 L328.1 367.4 L329.0 365.7 L329.9 364.1 L330.8 362.6 L331.6 361.1 L332.5 359.8 L333.4 358.5 L334.3 357.2 L335.3 356.0 L336.2 354.9 L337.2 353.8 L338.2 352.7 L339.2 351.6 L340.3 350.5 L341.4 349.4 L342.6 348.2 L343.7 347.0 L345.0 345.7 L346.3 344.3 L347.6 342.8 L349.0 341.3 L350.4 339.6 L351.9 338.0 L353.4 336.3 L354.8 334.7 L356.3 333.0 L357.7 331.5 L359.1 330.0 L360.4 328.7 L361.6 327.5 L362.8 326.5 L363.8 325.6 L364.8 324.8 L365.6 324.2 L366.4 323.6 L367.2 323.1 L367.9 322.7 L368.6 322.3 L369.4 321.9 L370.2 321.5 L371.1 321.1 L372.0 320.7 L373.1 320.3 L374.1 319.9 L375.1 319.5 L376.2 319.2 L377.3 318.8 L378.5 318.5 L379.7 318.2 L380.9 317.9 L382.1 317.6 L383.3 317.4 L384.5 317.1 L385.7 316.9 L386.7 316.7 L387.7 316.5 L388.6 316.4 L389.5 316.3 L390.4 316.2 L391.4 316.2 L392.3 316.1 L393.2 316.1 L394.2 316.0 L395.3 316.0 L396.3 315.9 L397.4 315.9 L398.5 315.8 L397.5 305.2 L396.5 305.3 L395.6 305.3 L394.6 305.4 L393.6 305.4 L392.6 305.5 L391.5 305.5 L390.4 305.6 L389.3 305.7 L388.1 305.8 L386.8 305.9 L385.5 306.1 L384.3 306.3 L383.0 306.5 L381.7 306.8 L380.4 307.1 L379.0 307.4 L377.6 307.7 L376.2 308.0 L374.7 308.4 L373.3 308.8 L371.9 309.2 L370.5 309.7 L369.1 310.2 L367.7 310.7 L366.6 311.2 L365.5 311.7 L364.4 312.2 L363.3 312.7 L362.1 313.2 L361.0 313.9 L359.9 314.5 L358.7 315.3 L357.6 316.1 L356.4 317.0 L355.1 318.0 L353.8 319.1 L352.4 320.4 L351.0 321.8 L349.5 323.3 L348.0 324.9 L346.5 326.5 L345.0 328.2 L343.5 329.9 L342.0 331.6 L340.5 333.2 L339.1 334.8 L337.8 336.3 L336.5 337.7 L335.3 339.0 L334.2 340.2 L333.0 341.4 L331.9 342.6 L330.7 343.7 L329.6 344.9 L328.5 346.1 L327.4 347.3 L326.2 348.6 L325.1 350.0 L324.0 351.4 L322.8 352.9 L321.7 354.5 L320.6 356.2 L319.6 357.9 L318.7 359.6 L317.8 361.3 L316.9 363.0 L316.0 364.6 L315.1 366.3 L314.2 367.9 L313.2 369.4 L312.3 370.9 L311.2 372.4 L310.1 373.9 L308.9 375.5 L307.6 377.2 L306.2 378.8 L304.8 380.4 L303.4 382.1 L302.0 383.7 L300.6 385.2 L299.2 386.8 L297.8 388.2 L296.5 389.6 L295.3 390.9 L294.1 392.0 L292.9 393.1 L291.8 394.2 L290.7 395.1 L289.6 396.1 L288.6 396.9 L287.5 397.8 L286.4 398.6 L285.3 399.5 L284.2 400.3 L283.1 401.1 L281.9 402.0 L280.8 402.9 L279.6 403.7 L278.5 404.6 L277.4 405.4 L276.3 406.2 L275.2 406.9 L274.2 407.6 L273.1 408.3 L272.2 408.8 L271.2 409.4 L270.3 409.8 L269.4 410.2 L268.4 410.6 L267.4 410.9 L266.4 411.2 L265.4 411.5 L264.4 411.7 L263.4 411.9 L262.4 412.0 L261.4 412.2 L260.5 412.2 L259.5 412.3 L258.5 412.3 L257.5 412.2 L256.5 412.1 L255.4 412.0 L254.4 411.8 L253.3 411.6 L252.1 411.3 L251.0 411.0 L249.8 410.7 L248.7 410.3 L247.5 409.8 L246.3 409.4 L245.1 408.9 L244.0 408.3 L242.8 407.8 L241.6 407.2 L240.5 406.6 L239.3 405.9 L238.1 405.2 L237.0 404.5 L235.8 403.7 L234.7 402.9 L233.6 402.1 L232.4 401.2 L231.3 400.3 L230.2 399.3 L229.0 398.3 L227.9 397.2 L226.8 396.1 L225.6 395.0 L224.5 393.8 L223.4 392.5 L222.3 391.3 L221.2 389.9 L220.0 388.5 L218.9 387.0 L217.7 385.5 L216.6 383.9 L215.4 382.3 L214.2 380.5 L213.0 378.7 L211.8 376.8 L210.6 374.9 L209.4 372.9 L208.2 370.8 L207.0 368.7 L205.8 366.6 L204.6 364.5 L203.4 362.4 L202.2 360.3 L201.1 358.1 L199.9 356.0 L198.8 353.8 L197.7 351.5 L196.6 349.3 L195.5 347.0 L194.3 344.7 L193.2 342.3 L192.1 340.0 L191.0 337.7 L189.8 335.4 L188.7 333.2 L187.5 330.9 L186.4 328.6 L185.2 326.3 L184.0 323.9 L182.8 321.6 L181.6 319.2 L180.4 317.0 L179.3 314.8 L178.1 312.7 L177.1 310.7 L176.0 308.8 L175.0 307.1 L174.0 305.6 L173.1 304.3 L172.3 303.1 L171.5 302.0 L170.7 301.1 L169.9 300.2 L169.1 299.4 L168.4 298.7 L167.7 298.0 L167.0 297.3 L166.4 296.7 L165.7 296.0 L164.9 295.2 L164.1 294.5 L163.2 293.7 L162.4 292.9 L161.5 292.2 L160.6 291.4 L159.8 290.7 L158.9 290.0 L157.9 289.3 L157.0 288.6 L156.1 288.0 L155.1 287.3 L154.2 286.7 L153.3 286.1 L152.3 285.5 L151.3 284.9 L150.3 284.3 L149.2 283.7 L148.1 283.1 L147.0 282.5 L145.9 282.0 L144.7 281.5 L143.5 281.0 L142.3 280.6 L141.1 280.2 L139.9 279.8 L138.7 279.5 L137.5 279.3 L136.3 279.0 L135.0 278.8 L133.8 278.6 L132.5 278.5 L131.2 278.4 L129.9 278.3 L128.5 278.2 L127.1 278.2 L125.7 278.2 L124.1 278.2 L122.5 278.2 L120.9 278.3 L119.2 278.4 L117.5 278.5 L115.7 278.6 L114.0 278.8 L112.3 279.0 L110.6 279.3 L108.9 279.5 L107.3 279.9 L105.8 280.2 L104.4 280.5 L103.0 280.9 L101.6 281.3 L100.2 281.7 L98.9 282.2 L97.5 282.8 L96.1 283.3 L94.8 284.0 L93.4 284.6 L92.1 285.4 L90.7 286.2 L89.3 287.1 L87.9 288.1 L86.4 289.1 L85.0 290.2 L83.6 291.3 L82.2 292.4 L80.9 293.6 L79.6 294.8 L78.4 295.9 L77.2 297.0 L76.1 298.1 L75.0 299.1 L74.1 300.1 L73.2 301.2 L72.3 302.2 L71.6 303.2 L71.0 304.1 L70.4 305.0 L69.9 305.8 L69.4 306.6 L68.9 307.4 L68.4 308.2 L67.8 309.0 L67.3 309.8 L66.6 310.7 L65.8 311.6 L65.1 312.6 L64.3 313.6 L63.5 314.7 L62.7 315.7 L61.8 316.8 L61.0 317.9 L60.2 318.9 L59.3 320.0 L58.5 321.1 L57.7 322.2 L57.0 323.3 L56.2 324.3 L55.5 325.4 L54.7 326.5 L54.0 327.5 L53.3 328.6 L52.6 329.6 L51.9 330.6 L51.2 331.6 L50.5 332.6 L49.8 333.6 L49.1 334.6 L48.4 335.6 L47.7 336.6 L46.9 337.6 L46.2 338.6 L45.4 339.6 L44.7 340.6 L43.9 341.6 L43.1 342.6 L42.4 343.6 L41.6 344.6 L40.9 345.6 L40.1 346.6 L39.4 347.6 L38.6 348.5 L37.9 349.5 L37.1 350.5 L36.4 351.4 L35.7 352.3 L34.9 353.3 L34.2 354.2 L33.5 355.1 L32.7 356.0 L32.0 356.8 L31.3 357.7 L30.6 358.5 L29.8 359.3 L29.1 360.1 L28.4 361.0 L27.7 361.8 L26.9 362.5 L26.2 363.3 L25.5 364.1 L24.7 364.8 L24.0 365.6 L23.3 366.3 L22.5 367.0 L21.8 367.7 L21.0 368.5 L20.3 369.2 L19.5 369.9 L18.8 370.6 L18.1 371.3 L17.4 371.9 L16.7 372.5 L16.0 373.0 L15.4 373.5 L14.8 373.9 L14.3 374.3 L13.8 374.6 L13.4 374.8 L13.0 375.1 L12.6 375.3 L12.1 375.4 L11.7 375.6 L11.2 375.8 L10.6 376.0 L10.0 376.1 L9.3 376.4 L8.6 376.6 L7.8 376.8 L7.1 377.1 L6.4 377.3 L5.7 377.5 L4.9 377.7 L4.1 377.9 L3.3 378.1 L2.5 378.3 L1.6 378.6 L0.8 378.8 L-0.1 379.0 L-0.9 379.2 L-1.8 379.4 L-2.6 379.6 L-3.4 379.8 L-4.3 380.1 L-5.1 380.3 L-5.9 380.5 L-6.7 380.7 L-7.6 380.9 L-8.4 381.1 L-9.2 381.3 L-10.1 381.5 L-10.9 381.7 L-11.7 381.9 Z" fill="url(#fadeA)"/>
<path d="M-6.7 452.4 L-5.2 452.3 L-3.8 452.1 L-2.3 452.0 L-0.7 451.8 L0.9 451.7 L2.5 451.6 L4.3 451.4 L6.1 451.2 L7.9 450.9 L9.8 450.6 L11.7 450.2 L13.5 449.8 L15.2 449.3 L16.8 448.9 L18.4 448.5 L20.0 448.0 L21.7 447.4 L23.4 446.8 L25.2 446.1 L26.9 445.4 L28.7 444.5 L30.5 443.6 L32.3 442.5 L34.2 441.4 L36.0 440.2 L37.8 439.0 L39.7 437.7 L41.6 436.3 L43.5 434.8 L45.4 433.2 L47.4 431.6 L49.4 429.9 L51.3 428.1 L53.3 426.2 L55.2 424.3 L57.1 422.3 L59.1 420.1 L60.9 417.8 L62.8 415.5 L64.6 413.1 L66.4 410.6 L68.2 408.1 L70.0 405.6 L71.8 403.0 L73.6 400.5 L75.5 397.9 L77.3 395.4 L79.2 392.9 L81.2 390.3 L83.4 387.6 L85.5 384.7 L87.8 381.9 L90.0 379.0 L92.2 376.1 L94.5 373.3 L96.6 370.6 L98.7 368.1 L100.7 365.8 L102.5 363.7 L104.2 361.9 L105.7 360.4 L107.1 359.1 L108.4 358.0 L109.6 357.1 L110.7 356.4 L111.8 355.7 L112.8 355.1 L113.8 354.6 L114.9 354.0 L116.1 353.4 L117.3 352.8 L118.6 352.1 L119.7 351.6 L120.7 351.1 L121.6 350.6 L122.5 350.3 L123.3 349.9 L124.0 349.7 L124.7 349.4 L125.5 349.2 L126.2 349.0 L126.9 348.9 L127.7 348.7 L128.6 348.6 L129.5 348.5 L130.4 348.4 L131.3 348.3 L132.2 348.2 L133.1 348.2 L134.0 348.2 L134.8 348.2 L135.7 348.3 L136.6 348.4 L137.6 348.5 L138.5 348.7 L139.5 348.9 L140.6 349.2 L141.9 349.6 L143.3 350.0 L144.7 350.5 L146.2 351.0 L147.7 351.6 L149.2 352.2 L150.7 352.9 L152.0 353.5 L153.3 354.1 L154.5 354.7 L155.5 355.3 L156.4 355.8 L157.1 356.3 L157.7 356.8 L158.3 357.3 L158.9 357.8 L159.5 358.3 L160.1 358.9 L160.7 359.6 L161.3 360.3 L162.0 361.1 L162.8 361.9 L163.6 362.8 L164.3 363.6 L165.1 364.4 L165.8 365.2 L166.5 366.1 L167.2 366.9 L167.9 367.8 L168.7 368.7 L169.4 369.7 L170.1 370.6 L170.9 371.7 L171.7 372.7 L172.4 373.8 L173.2 375.0 L174.1 376.2 L174.9 377.5 L175.8 378.8 L176.7 380.2 L177.5 381.6 L178.4 383.0 L179.3 384.5 L180.2 385.9 L181.1 387.4 L181.9 388.8 L182.8 390.2 L183.6 391.6 L184.4 392.9 L185.2 394.3 L186.0 395.7 L186.8 397.1 L187.6 398.5 L188.4 399.9 L189.2 401.3 L190.0 402.7 L190.8 404.1 L191.6 405.5 L192.5 406.9 L193.3 408.3 L194.1 409.7 L194.9 411.1 L195.8 412.4 L196.6 413.8 L197.4 415.1 L198.2 416.4 L199.0 417.8 L199.9 419.2 L200.7 420.6 L201.6 422.0 L202.5 423.4 L203.3 425.0 L204.2 426.5 L205.2 428.1 L206.1 429.8 L207.0 431.4 L208.0 433.1 L209.0 434.8 L209.9 436.5 L210.9 438.2 L211.9 439.8 L212.8 441.5 L213.8 443.0 L214.7 444.5 L215.7 446.0 L216.6 447.5 L217.5 449.0 L218.4 450.4 L219.4 451.9 L220.3 453.3 L221.3 454.8 L222.3 456.2 L223.3 457.5 L224.4 458.9 L225.5 460.2 L226.6 461.4 L227.8 462.6 L229.0 463.8 L230.2 464.9 L231.4 466.0 L232.6 467.0 L233.8 468.0 L235.0 468.9 L236.2 469.8 L237.4 470.7 L238.6 471.5 L239.7 472.3 L240.9 473.0 L242.2 473.7 L243.4 474.4 L244.6 475.1 L245.8 475.7 L247.0 476.2 L248.2 476.7 L249.4 477.2 L250.5 477.6 L251.7 478.0 L252.8 478.4 L254.0 478.8 L255.2 479.1 L256.5 479.4 L257.7 479.7 L258.9 479.9 L260.1 480.1 L261.3 480.3 L262.5 480.4 L263.6 480.5 L264.7 480.5 L265.8 480.6 L266.9 480.6 L267.9 480.6 L269.0 480.6 L270.2 480.6 L271.3 480.5 L272.5 480.5 L273.6 480.4 L274.7 480.3 L275.8 480.1 L276.9 480.0 L278.1 479.8 L279.2 479.6 L280.3 479.4 L281.3 479.2 L282.3 478.9 L283.3 478.7 L284.4 478.4 L285.4 478.2 L286.5 477.8 L287.6 477.5 L288.7 477.1 L289.8 476.7 L290.9 476.3 L292.1 475.8 L293.2 475.3 L294.4 474.7 L295.5 474.2 L296.6 473.7 L297.7 473.1 L299.0 472.5 L300.2 471.8 L301.6 471.0 L302.9 470.3 L304.3 469.4 L305.7 468.5 L307.0 467.4 L308.4 466.4 L309.8 465.2 L311.1 464.0 L312.4 462.7 L313.7 461.4 L315.0 460.1 L316.4 458.7 L317.7 457.2 L319.0 455.7 L320.3 454.1 L321.5 452.5 L322.8 450.9 L324.1 449.2 L325.4 447.5 L326.7 445.7 L328.0 443.8 L329.3 441.8 L330.7 439.8 L332.0 437.7 L333.3 435.6 L334.5 433.5 L335.8 431.4 L337.0 429.4 L338.2 427.5 L339.3 425.7 L340.4 423.9 L341.4 422.3 L342.4 420.7 L343.3 419.2 L344.2 417.7 L345.1 416.3 L346.0 414.9 L346.8 413.6 L347.6 412.3 L348.4 411.0 L349.2 409.7 L350.1 408.4 L350.9 407.2 L351.8 405.8 L352.7 404.5 L353.6 403.2 L354.4 401.9 L355.3 400.6 L356.2 399.4 L357.0 398.2 L357.9 397.0 L358.7 395.9 L359.5 394.8 L360.3 393.8 L361.1 392.9 L361.9 391.9 L362.8 391.1 L363.6 390.2 L364.4 389.4 L365.2 388.7 L365.9 388.0 L366.7 387.3 L367.5 386.6 L368.2 386.0 L369.0 385.5 L369.7 384.9 L370.5 384.4 L371.2 384.0 L371.9 383.5 L372.6 383.1 L373.2 382.8 L373.8 382.5 L374.3 382.3 L374.7 382.1 L375.2 381.9 L375.6 381.8 L376.1 381.7 L376.6 381.6 L377.0 381.5 L377.4 381.5 L377.9 381.5 L378.6 381.5 L379.3 381.5 L380.3 381.6 L381.3 381.7 L382.4 381.9 L383.6 382.0 L384.9 382.2 L386.3 382.4 L387.7 382.5 L389.0 382.7 L391.0 372.3 L389.9 372.2 L388.9 372.1 L387.7 372.0 L386.5 371.8 L385.3 371.7 L383.9 371.5 L382.5 371.3 L381.0 371.2 L379.5 371.1 L377.8 371.1 L376.1 371.1 L374.4 371.3 L372.8 371.5 L371.4 371.8 L370.0 372.1 L368.6 372.5 L367.4 373.0 L366.2 373.5 L365.0 374.0 L363.9 374.6 L362.9 375.1 L361.9 375.7 L360.9 376.3 L359.9 377.0 L358.9 377.6 L357.9 378.4 L356.9 379.1 L355.9 379.9 L354.9 380.8 L353.9 381.6 L352.9 382.5 L351.9 383.5 L350.9 384.4 L350.0 385.4 L349.0 386.5 L348.1 387.5 L347.1 388.7 L346.1 389.9 L345.2 391.1 L344.3 392.3 L343.4 393.6 L342.4 394.9 L341.5 396.2 L340.6 397.5 L339.7 398.9 L338.9 400.2 L338.0 401.5 L337.1 402.8 L336.2 404.2 L335.3 405.5 L334.5 406.9 L333.6 408.2 L332.8 409.5 L332.0 410.9 L331.1 412.3 L330.2 413.7 L329.3 415.2 L328.4 416.7 L327.4 418.2 L326.4 419.9 L325.3 421.6 L324.2 423.5 L323.0 425.4 L321.8 427.4 L320.5 429.5 L319.3 431.5 L318.0 433.6 L316.7 435.6 L315.5 437.6 L314.2 439.4 L313.0 441.2 L311.8 442.9 L310.6 444.5 L309.4 446.0 L308.2 447.6 L307.0 449.0 L305.8 450.5 L304.6 451.8 L303.4 453.2 L302.3 454.4 L301.1 455.6 L300.0 456.8 L298.9 457.8 L297.8 458.8 L296.8 459.7 L295.8 460.5 L294.8 461.2 L293.8 461.9 L292.8 462.5 L291.8 463.1 L290.8 463.7 L289.7 464.2 L288.7 464.7 L287.7 465.2 L286.6 465.8 L285.6 466.3 L284.7 466.7 L283.9 467.0 L283.2 467.3 L282.5 467.6 L281.8 467.9 L281.1 468.1 L280.4 468.3 L279.7 468.5 L279.0 468.7 L278.3 468.9 L277.5 469.1 L276.7 469.2 L275.9 469.4 L275.2 469.6 L274.4 469.7 L273.7 469.8 L273.0 469.9 L272.3 470.0 L271.6 470.1 L270.9 470.1 L270.2 470.2 L269.5 470.2 L268.8 470.2 L268.1 470.2 L267.3 470.2 L266.5 470.2 L265.8 470.1 L265.1 470.1 L264.4 470.1 L263.8 470.0 L263.2 469.9 L262.5 469.8 L261.9 469.7 L261.3 469.6 L260.7 469.4 L260.0 469.2 L259.2 469.0 L258.4 468.7 L257.7 468.4 L256.9 468.2 L256.1 467.8 L255.3 467.5 L254.5 467.1 L253.6 466.7 L252.8 466.3 L252.0 465.8 L251.1 465.3 L250.3 464.7 L249.3 464.1 L248.3 463.4 L247.3 462.7 L246.3 462.0 L245.3 461.2 L244.3 460.4 L243.3 459.5 L242.3 458.6 L241.3 457.7 L240.4 456.8 L239.4 455.8 L238.5 454.8 L237.6 453.8 L236.7 452.7 L235.9 451.5 L235.0 450.3 L234.1 449.0 L233.2 447.7 L232.3 446.3 L231.5 444.9 L230.6 443.4 L229.7 442.0 L228.7 440.5 L227.8 439.0 L226.9 437.5 L225.9 435.9 L225.0 434.3 L224.1 432.7 L223.1 431.0 L222.2 429.4 L221.2 427.7 L220.3 426.0 L219.3 424.3 L218.4 422.7 L217.5 421.1 L216.5 419.6 L215.7 418.1 L214.8 416.6 L213.9 415.2 L213.1 413.8 L212.2 412.4 L211.4 411.1 L210.6 409.7 L209.8 408.4 L209.0 407.1 L208.2 405.7 L207.4 404.4 L206.5 403.1 L205.7 401.7 L204.9 400.3 L204.2 398.9 L203.4 397.5 L202.6 396.1 L201.8 394.7 L201.0 393.3 L200.2 391.9 L199.3 390.5 L198.5 389.1 L197.7 387.6 L196.8 386.2 L196.0 384.8 L195.1 383.4 L194.2 381.9 L193.3 380.5 L192.4 379.0 L191.5 377.5 L190.6 376.1 L189.7 374.7 L188.8 373.3 L187.9 371.9 L187.0 370.6 L186.2 369.4 L185.3 368.2 L184.5 367.0 L183.7 365.9 L182.9 364.8 L182.1 363.8 L181.3 362.8 L180.5 361.8 L179.7 360.9 L178.9 359.9 L178.0 359.0 L177.2 358.1 L176.4 357.2 L175.7 356.4 L175.0 355.7 L174.3 354.9 L173.6 354.1 L172.8 353.3 L172.0 352.4 L171.1 351.6 L170.2 350.7 L169.1 349.9 L167.9 349.0 L166.7 348.1 L165.3 347.3 L163.8 346.5 L162.3 345.7 L160.6 344.9 L158.9 344.2 L157.2 343.4 L155.4 342.6 L153.5 341.9 L151.7 341.3 L149.9 340.6 L148.1 340.1 L146.2 339.5 L144.5 339.1 L142.7 338.7 L141.0 338.4 L139.3 338.2 L137.6 338.0 L136.0 337.9 L134.4 337.8 L132.8 337.8 L131.2 337.9 L129.7 337.9 L128.3 338.1 L126.8 338.2 L125.4 338.4 L124.0 338.6 L122.6 338.9 L121.2 339.2 L119.8 339.6 L118.5 340.0 L117.1 340.4 L115.8 340.9 L114.5 341.4 L113.2 342.0 L111.9 342.6 L110.6 343.2 L109.4 343.9 L108.3 344.5 L107.1 345.0 L105.9 345.6 L104.6 346.3 L103.2 347.1 L101.7 347.9 L100.1 348.9 L98.5 350.0 L96.9 351.3 L95.2 352.7 L93.4 354.3 L91.6 356.1 L89.7 358.2 L87.6 360.4 L85.5 362.9 L83.4 365.5 L81.1 368.3 L78.9 371.2 L76.6 374.1 L74.3 377.0 L72.1 379.9 L69.9 382.7 L67.8 385.5 L65.8 388.1 L63.8 390.7 L61.9 393.3 L60.0 395.9 L58.1 398.5 L56.3 401.0 L54.5 403.6 L52.8 406.0 L51.1 408.4 L49.3 410.6 L47.6 412.8 L45.9 414.8 L44.3 416.7 L42.5 418.5 L40.8 420.3 L39.1 422.0 L37.3 423.6 L35.5 425.1 L33.8 426.6 L32.1 428.0 L30.3 429.3 L28.7 430.5 L27.0 431.7 L25.4 432.8 L23.8 433.8 L22.4 434.7 L21.1 435.4 L19.8 436.1 L18.5 436.7 L17.3 437.2 L16.1 437.7 L14.9 438.1 L13.7 438.5 L12.4 438.9 L11.1 439.3 L9.7 439.7 L8.3 440.0 L7.0 440.3 L5.8 440.6 L4.6 440.8 L3.3 441.0 L1.9 441.1 L0.5 441.3 L-1.0 441.4 L-2.6 441.5 L-4.2 441.7 L-5.9 441.8 L-7.6 442.0 L-9.3 442.2 Z" fill="url(#fadeC)"/>
<path d="M140.3 200.8 V615" stroke="#222" stroke-width="1.3" stroke-dasharray="9.3 3.4" fill="none"/>
<path d="M266.7 200.8 V615" stroke="#222" stroke-width="1.3" stroke-dasharray="9.3 3.4" fill="none"/>
<path d="M615.6 200.8 V615" stroke="#222" stroke-width="1.3" stroke-dasharray="9.3 3.4" fill="none"/>
<text opacity="0.99" x="107.0" y="171.3" font-family="'Liberation Sans', sans-serif" font-size="15.8" font-weight="normal" fill="#3c3c3c" text-anchor="start" textLength="72.0" lengthAdjust="spacingAndGlyphs">First Wave</text>
<text opacity="0.99" x="124.3" y="191.8" font-family="'Liberation Sans', sans-serif" font-size="15.8" font-weight="normal" fill="#3c3c3c" text-anchor="start" textLength="36.4" lengthAdjust="spacingAndGlyphs">Band</text>
<text opacity="0.99" x="242.0" y="171.3" font-family="'Liberation Sans', sans-serif" font-size="15.8" font-weight="normal" fill="#3c3c3c" text-anchor="start" textLength="52.0" lengthAdjust="spacingAndGlyphs">Second</text>
<text opacity="0.99" x="229.0" y="191.8" font-family="'Liberation Sans', sans-serif" font-size="15.8" font-weight="normal" fill="#3c3c3c" text-anchor="start" textLength="77.7" lengthAdjust="spacingAndGlyphs">Wave Band</text>
<text opacity="0.99" x="576.6" y="171.0" font-family="'Liberation Sans', sans-serif" font-size="15.8" font-weight="normal" fill="#3c3c3c" text-anchor="start" textLength="78.0" lengthAdjust="spacingAndGlyphs">Third Wave</text>
<text opacity="0.99" x="597.7" y="191.8" font-family="'Liberation Sans', sans-serif" font-size="15.8" font-weight="normal" fill="#3c3c3c" text-anchor="start" textLength="35.0" lengthAdjust="spacingAndGlyphs">Band</text>
<path d="M118.3 265.4 L126.2 278.9" stroke="#222" stroke-width="1.2"/><circle cx="126.3" cy="279" r="1.6" fill="#222"/>
<rect x="57.1" y="234.7" width="64.7" height="30.7" rx="4" fill="#f3f3f3" stroke="#1e1e1e" stroke-width="1.5"/>
<text opacity="0.99" x="65.3" y="256.8" font-family="'Liberation Sans', sans-serif" font-size="16.8" font-weight="normal" fill="#333" text-anchor="start" textLength="49.8" lengthAdjust="spacingAndGlyphs">Treble</text>
<path d="M250.1 491 L258.9 476.5" stroke="#222" stroke-width="1.2"/><circle cx="258.9" cy="476.5" r="1.6" fill="#222"/>
<rect x="206" y="491.3" width="50.3" height="23.2" rx="4" fill="#ececec" stroke="#1e1e1e" stroke-width="1.5"/>
<text opacity="0.99" x="214.2" y="508.7" font-family="'Liberation Sans', sans-serif" font-size="16.8" font-weight="normal" fill="#333" text-anchor="start" textLength="35.0" lengthAdjust="spacingAndGlyphs">Bass</text>
<text opacity="0.99" x="76.9" y="27.9" font-family="'Liberation Sans', sans-serif" font-size="33.8" font-weight="normal" fill="#151515" text-anchor="start" textLength="522.2" lengthAdjust="spacingAndGlyphs" stroke="#151515" stroke-width="1.3" stroke-linejoin="round">How Does Acoustic Panel Work?</text>
<rect x="14.0" y="71.2" width="144.2" height="24.8" rx="3.5" fill="#060606"/>
<text opacity="0.99" x="23.0" y="90.3" font-family="'Liberation Sans', sans-serif" font-size="20.0" font-weight="bold" fill="#ffffff" text-anchor="start" textLength="123.4" lengthAdjust="spacingAndGlyphs" stroke="#fff" stroke-width="0.25">Sound Source</text>
<rect x="206.6" y="71.2" width="173.6" height="24.3" rx="3.5" fill="#060606"/>
<text opacity="0.99" x="213.7" y="89.3" font-family="'Liberation Sans', sans-serif" font-size="20.0" font-weight="bold" fill="#ffffff" text-anchor="start" textLength="160.8" lengthAdjust="spacingAndGlyphs" stroke="#fff" stroke-width="0.25">Sound Absorption</text>
<rect x="429.0" y="71.8" width="240.5" height="24.2" rx="3.5" fill="#060606"/>
<text opacity="0.99" x="437.7" y="89.9" font-family="'Liberation Sans', sans-serif" font-size="20.0" font-weight="bold" fill="#ffffff" text-anchor="start" textLength="224.3" lengthAdjust="spacingAndGlyphs" stroke="#fff" stroke-width="0.25">Reverberation Disappear</text>
<path d="M175.8 77.5 L190.6 85.3 L175.8 93.2 L180.0 85.3 Z" fill="#4d4d4d"/>
<path d="M396.0 77.5 L410.8 85.3 L396.0 93.2 L400.2 85.3 Z" fill="#4d4d4d"/></svg></body></html>
